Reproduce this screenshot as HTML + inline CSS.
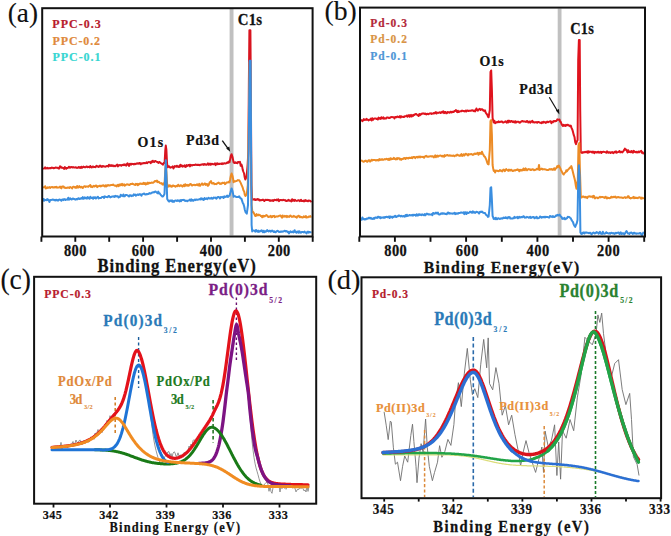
<!DOCTYPE html>
<html><head><meta charset="utf-8"><title>XPS</title>
<style>
html,body{margin:0;padding:0;background:#fff;width:671px;height:536px;overflow:hidden;}
svg{display:block;}
text{font-family:"Liberation Serif",serif;}
</style></head>
<body>
<svg width="671" height="536" viewBox="0 0 671 536">
<rect width="671" height="536" fill="#fff"/>
<rect x="229.6" y="9" width="3.9" height="226.5" fill="#c0c0c0"/>
<rect x="557.7" y="8.5" width="3.8" height="227" fill="#c0c0c0"/>
<polyline points="43,168.4 43.7,168.6 44.4,168.3 45.1,167.4 45.8,168.6 46.5,168.4 47.2,167.8 48,168.4 48.7,168.3 49.4,168.2 50.1,168 50.8,168.3 51.5,167.6 52.2,167.9 52.9,167.7 53.6,168.3 54.3,168 55,167.8 55.8,167.5 56.5,167.7 57.2,167.9 57.9,167.7 58.6,168.5 59.3,168.4 60,166.3 60.7,166.7 61.4,167.7 62.1,167.5 62.8,167.9 63.4,167.9 64.1,168.9 64.8,167.1 65.5,167.5 66.2,168.8 66.9,168 67.6,168 68.3,167.4 69,166.7 69.7,167.7 70.3,167.7 71,166.9 71.7,167.2 72.4,167.5 73.1,167 73.8,167.5 74.5,167.6 75.2,167.5 75.9,167.2 76.6,167.8 77.2,167.9 77.9,167.6 78.6,167 79.3,167.8 80,167.1 80.7,167.9 81.4,166.7 82.1,167.8 82.8,167.3 83.4,166.6 84.1,167 84.8,167.2 85.5,167.3 86.2,166.6 86.9,166.5 87.6,167.2 88.3,166.8 89,167.1 89.7,167.4 90.3,166 91,167 91.7,167.5 92.4,166.7 93.1,166.4 93.8,167.2 94.5,166.9 95.2,167.2 95.9,166.5 96.6,165.8 97.2,166.6 97.9,166.3 98.6,167 99.3,166.6 100,165.6 100.7,165.8 101.4,166.9 102.1,166.7 102.8,166 103.4,166.3 104.1,166.5 104.8,166.5 105.5,166.7 106.2,166.3 106.9,166 107.6,165.9 108.3,166.6 109,164.7 109.7,165.8 110.3,165.9 111,165.1 111.7,166 112.4,165.4 113.1,166.2 113.8,165.6 114.5,166 115.2,166.3 115.9,165.8 116.6,165 117.2,164.6 117.9,166.4 118.6,165.3 119.3,165 120,165.4 120.7,165.1 121.4,165.7 122.1,165.1 122.8,165.1 123.4,164.6 124.1,165.2 124.8,164.3 125.5,165.2 126.2,165.6 126.9,163.9 127.6,163.3 128.3,164.9 129,165.9 129.7,163.9 130.3,163.7 131,164.7 131.7,163.8 132.4,164 133.1,164 133.8,164.4 134.5,163.8 135.2,164.2 135.9,163.9 136.6,163.4 137.2,163.7 137.9,163.3 138.6,163.7 139.3,163 140,163 140.7,164.3 141.4,163.4 142.1,163.3 142.9,163.6 143.6,163 144.3,163 145,163.3 145.7,163.1 146.4,162.3 147.1,163.3 147.9,162.4 148.6,162.1 149.3,162.1 150,162.3 150.7,163.2 151.4,161.5 152.1,162.1 152.8,160.7 153.4,161.7 154.1,162 154.8,161.2 155.5,160.9 156.2,161.5 156.9,161.9 157.6,162 158.3,162.9 159,162.1 159.7,162.1 160.3,162.8 161,163.2 161.7,163.7 162.3,164.1 163,164.6 163.8,162.8 164.6,163 165.3,150 165.8,145.6 166.4,150 167,163 167.6,167.3 168.3,166.5 169.1,166.2 169.8,167.3 170.5,167.7 171.3,167.2 172,167.1 172.7,166.4 173.4,168.5 174.1,167.3 174.8,166.1 175.5,166.3 176.2,166.7 176.8,165.7 177.5,166.6 178.2,166.2 178.9,167.1 179.6,166.9 180.3,164.8 181,166.2 181.7,165.2 182.4,166.7 183.1,166.1 183.8,166.3 184.5,165.3 185.2,166.8 185.8,166.9 186.5,165.1 187.2,165.9 187.9,165.2 188.6,165.5 189.3,164.8 190,166.4 190.7,164.8 191.4,165.2 192.1,165.6 192.8,164.9 193.4,165.1 194.1,164.9 194.8,165.1 195.5,164.5 196.2,164.8 196.9,164.9 197.6,164.8 198.3,165 199,164.8 199.7,165.3 200.3,164.7 201,164.8 201.7,164.4 202.4,164.5 203.1,164 203.8,165 204.5,164 205.2,164.2 205.9,164.8 206.6,164.8 207.2,164.3 207.9,163.4 208.6,164.7 209.3,164.6 210,163.6 210.7,164.8 211.4,163.9 212.1,163.7 212.9,164.3 213.6,164.1 214.3,164.3 215,163.3 215.7,165.1 216.4,163.7 217.1,163.2 217.9,164.3 218.6,163.7 219.3,164.1 220,163.7 220.7,163.8 221.4,163.9 222.1,163.3 222.9,164.1 223.6,163.4 224.3,163.2 225,163.6 225.8,163.6 226.5,163 227.2,162.4 228,163 228.8,161.5 229.5,162.2 230.2,159.1 230.8,156 231.6,154.2 232.5,157 233.1,160 233.6,162.4 234.4,163 235.2,162.3 236,163 236.6,162.8 237.3,163.2 237.9,162 238.6,162 239.2,162.4 240,161.8 240.7,165.8 241.5,164.6 242.2,166.9 242.8,170.1 243.5,172 244.1,173.5 244.7,177.3 245.3,179.5 245.9,178.2 246.5,177 247.1,171 247.6,165 248.4,151 248.9,80 249.4,30.3 250.4,30.3 250.9,100 251.4,185 252.1,199.8 252.8,199.1 253.4,199.3 254.1,199.8 254.7,199.1 255.3,200 256,199.9 256.7,199.4 257.4,199.1 258.1,199.7 258.8,199.4 259.5,200.5 260.2,200 260.9,200.4 261.6,200 262.3,200.1 263,199.6 263.7,200.4 264.4,201 265.1,199.9 265.8,199.8 266.5,200 267.2,199.9 267.9,199.8 268.6,200.2 269.3,200 270,201 270.7,200.2 271.4,200.4 272.1,200.8 272.8,200.1 273.4,201 274.1,199.9 274.8,199.8 275.5,200.1 276.2,200.2 276.9,199.5 277.6,200.3 278.3,199.4 279,201.1 279.7,200.3 280.3,200 281,199.9 281.7,200.2 282.4,200.3 283.1,199.8 283.8,199.9 284.5,200.3 285.2,200.1 285.9,201 286.6,201.1 287.2,200.5 287.9,200.7 288.6,199.7 289.3,200.8 290,200.5 290.7,200.8 291.4,201.4 292.1,199.3 292.8,200.7 293.5,199.9 294.2,200.9 294.9,199.8 295.5,200.3 296.2,200.7 296.9,200.9 297.6,200.6 298.3,200.2 299,200.3 299.7,201.1 300.4,200.6 301.1,199.7 301.8,201.1 302.5,200.9 303.2,201.2 303.9,200.5 304.6,201.2 305.3,200.1 306,201 306.6,200.5 307.3,201.1 308,201.3 308.7,200.4 309.4,200.7 310.1,200.8 310.8,201.4 311.5,200.8" fill="none" stroke="#d8141f" stroke-width="2.0" stroke-linejoin="round"/>
<polyline points="43,187.7 43.7,187.3 44.4,187.3 45.1,186.2 45.8,188.5 46.5,188.1 47.2,187.3 48,187.9 48.7,187.6 49.4,187.1 50.1,188 50.8,187.2 51.5,187.2 52.2,186.9 52.9,187.6 53.6,187.3 54.3,187.6 55,187 55.8,187.4 56.5,186.8 57.2,187.7 57.9,187.4 58.6,187.4 59.3,187.4 60,186.6 60.7,187.7 61.4,188.4 62.1,186.4 62.9,186.4 63.6,186.5 64.3,187.8 65,187.5 65.7,188 66.4,187.9 67.1,187.6 67.9,187.7 68.6,187.4 69.3,188 70,187 70.7,187.3 71.4,187.6 72.1,188.4 72.9,187 73.6,186.7 74.3,186.9 75,187.7 75.7,187 76.4,187.8 77.1,186 77.9,187.6 78.6,187.5 79.3,186.1 80,186.9 80.7,187.4 81.4,186.8 82.1,187.3 82.8,188 83.4,186.8 84.1,186.5 84.8,186.2 85.5,186.9 86.2,186.4 86.9,186.4 87.6,186.4 88.3,186.8 89,185.9 89.7,185.6 90.3,185 91,187 91.7,186.4 92.4,187.1 93.1,186.3 93.8,185.8 94.5,186.5 95.2,186.2 95.9,185.5 96.6,185.7 97.2,187.1 97.9,186.3 98.6,186.3 99.3,185.9 100,185.6 100.7,186.5 101.4,185.9 102.1,185.5 102.8,185.8 103.4,185.3 104.1,185.9 104.8,186.4 105.5,185.3 106.2,186.5 106.9,185.3 107.6,185.7 108.3,185.1 109,185.4 109.7,185.5 110.3,185.2 111,185.1 111.7,185 112.4,184.9 113.1,184.5 113.8,185.2 114.5,185.5 115.2,185.7 115.9,185.6 116.6,186.5 117.2,185.3 117.9,184.9 118.6,186.1 119.3,184.5 120,185.5 120.7,184.4 121.4,185.1 122.1,183.8 122.8,185.4 123.4,184.7 124.1,184.3 124.8,185.7 125.5,185.1 126.2,184.7 126.9,184.2 127.6,184.6 128.3,184.5 129,185 129.7,185 130.3,184.1 131,184.1 131.7,184.1 132.4,183.6 133.1,184 133.8,184.3 134.5,184.7 135.2,185 135.9,183.8 136.6,184.5 137.2,183.9 137.9,185.2 138.6,184 139.3,184.3 140,183.5 140.7,183.5 141.4,184 142.1,183.6 142.9,184 143.6,182.9 144.3,184 145,183.1 145.7,184.5 146.4,183.3 147.1,184 147.9,182.6 148.6,183.6 149.3,182.8 150,182.9 150.7,183 151.4,182.6 152.1,182.7 152.8,182.8 153.4,182.5 154.1,181.9 154.8,181 155.5,181.1 156.2,181.5 156.9,180.5 157.6,182.2 158.3,181.8 159,181.9 159.7,182.9 160.3,183.2 161,183.4 161.7,183.1 162.3,184.3 163,184.7 163.8,183.3 164.6,183 165.3,170 165.8,164 166.4,172 167,183 167.6,186.9 168.3,186.6 169.1,185.2 169.8,186.3 170.5,185.5 171.3,186.8 172,186.6 172.7,185.5 173.4,185.6 174.1,186.1 174.8,185.9 175.5,186.8 176.2,186.3 176.8,185.7 177.5,186.1 178.2,184.7 178.9,185.9 179.6,186.2 180.3,185.5 181,185.2 181.7,185.9 182.4,186.6 183.1,185.6 183.8,184.8 184.5,186.2 185.2,184.3 185.8,185.6 186.5,184.9 187.2,185.7 187.9,184.7 188.6,185.8 189.3,185.2 190,184.1 190.7,183.9 191.4,184.8 192.1,185.6 192.8,184.9 193.6,184.9 194.3,184.7 195,185.2 195.7,185 196.4,184.9 197.1,184.2 197.8,185.3 198.5,185.4 199.2,183.9 200,185.8 200.7,184.9 201.4,184.2 202.1,183.4 202.8,184.8 203.5,184.7 204.2,184.1 204.9,183.4 205.7,184.9 206.4,184 207.1,184 207.8,185.8 208.5,185.4 209.1,183.8 209.8,182.1 210.4,181.9 211,181.1 211.7,183.2 212.3,183.6 213,183.2 213.7,183 214.4,184.2 215.1,183.9 215.8,183.9 216.5,184.2 217.2,183.2 217.9,183 218.7,182.6 219.4,183.4 220.1,183.9 220.8,183.4 221.5,183.8 222.2,182.7 222.9,183.1 223.6,182.9 224.3,182.6 225,184.2 225.8,183.5 226.5,182.5 227.2,182.4 228,182.6 228.8,181.7 229.5,182.4 230.2,179.2 230.8,176 231.6,173.5 232.5,176 233.1,179 233.6,182.2 234.4,181.2 235.2,181.5 236,181 236.6,181.1 237.3,180.5 237.9,180.1 238.6,180.3 239.2,180.2 240,181.6 240.7,182.9 241.5,184.8 242.2,186.4 242.8,187.9 243.5,190.4 244.2,191.6 244.8,194.8 245.5,196 246.2,195 246.8,194 247.8,185 248.8,120 249.6,62 250.4,62 251,150 251.6,205 252.4,212.3 253.2,212.1 254.1,213.6 254.6,214.6 255.2,215.9 255.9,216 256.6,214.1 257.3,215.2 258,215.4 258.7,214.6 259.4,215.1 260.1,215.2 260.8,216.1 261.5,216 262.2,217.3 263,215.7 263.7,216.6 264.4,216 265.1,216.2 265.8,215.4 266.5,215.1 267.2,215.7 267.9,216.6 268.6,217.1 269.3,216.6 270,216.6 270.7,215.8 271.4,217.2 272.1,217.1 272.8,216 273.5,216.3 274.2,215.8 274.9,217.2 275.6,216.6 276.3,216.3 277,216.6 277.7,216.6 278.4,216.2 279.1,215.7 279.8,215.7 280.6,215.4 281.3,216.7 282,217.6 282.7,215.5 283.4,216.5 284.1,216.7 284.8,215.9 285.5,216.6 286.2,215.9 286.9,217.1 287.6,216.1 288.3,216.5 289,216.9 289.7,216.3 290.4,215.5 291.1,216.2 291.8,216.9 292.5,216.5 293.2,216.7 293.9,215.9 294.6,216.6 295.3,216.9 296,216.6 296.7,217.6 297.4,216.5 298.1,216 298.8,215.7 299.5,217.2 300.2,216.6 300.9,217.2 301.7,216.9 302.4,217.5 303.1,217.3 303.8,216.4 304.5,216.8 305.2,217.2 305.9,216 306.6,217.5 307.3,217.3 308,217.2 308.7,216.6 309.4,216.8 310.1,216.1 310.8,216.7 311.5,216.7" fill="none" stroke="#ec8b25" stroke-width="2.0" stroke-linejoin="round"/>
<polyline points="43,201.5 43.7,199 44.4,200.6 45.1,200 45.8,200.1 46.5,200.2 47.2,199.1 48,200.1 48.7,199.7 49.4,202 50.1,200.3 50.8,199.9 51.5,199.9 52.2,199.7 52.9,199.5 53.6,199.8 54.3,200.3 55,199.8 55.8,200.5 56.5,199.8 57.2,199.9 57.9,200.7 58.6,200.1 59.3,199.5 60,199.7 60.7,200.1 61.4,200.8 62.1,199.5 62.8,199.5 63.4,200.1 64.1,199.1 64.8,199.3 65.5,200 66.2,199.7 66.9,199.4 67.6,199.7 68.3,197.7 69,199.8 69.7,198.7 70.3,198.3 71,199.3 71.7,199.5 72.4,198.8 73.1,198.4 73.8,199 74.5,198.9 75.2,199.7 75.9,199.3 76.6,198.9 77.2,199.4 77.9,198.6 78.6,198.2 79.3,199 80,198.9 80.7,198.4 81.4,198.1 82.1,198.6 82.8,197.1 83.4,198.8 84.1,198.6 84.8,197.4 85.5,198.3 86.2,197.7 86.9,198.6 87.6,197.1 88.3,197.6 89,198.5 89.7,198.7 90.3,196.8 91,197.7 91.7,198.1 92.4,197.6 93.1,198.8 93.8,197.2 94.5,198 95.2,197.2 95.9,198.5 96.6,197.7 97.2,197.4 97.9,196.7 98.6,198.5 99.3,198 100,197.9 100.7,198.1 101.4,197.6 102.1,197 102.8,196.9 103.4,196.8 104.1,197.9 104.8,196.3 105.5,196.8 106.2,196.9 106.9,197.1 107.6,197.2 108.3,196.2 109,195.9 109.7,196.8 110.3,197.4 111,197.1 111.7,196.7 112.4,196.4 113.1,196.7 113.8,196.3 114.5,196.9 115.2,195.9 115.9,196.4 116.6,196.2 117.2,196.5 117.9,196.3 118.6,197.5 119.3,196.9 120,196.8 120.7,194.8 121.4,195.7 122.1,195.5 122.8,196.1 123.4,194.5 124.1,196.4 124.8,196.2 125.5,194.9 126.2,195 126.9,195.1 127.6,195.5 128.3,195.8 129,196.5 129.7,195.2 130.3,195.7 131,195.3 131.7,196.1 132.4,195.5 133.1,195.8 133.8,194.4 134.5,194.9 135.2,194.5 135.9,195.7 136.6,195.2 137.2,194.6 137.9,194.5 138.6,195 139.3,194.3 140,194.1 140.7,194.8 141.4,195.8 142.1,194.3 142.9,194.1 143.6,193.7 144.3,193.5 145,194.5 145.7,194.6 146.4,194.1 147.1,194.2 147.9,194 148.6,194 149.3,193 150,193.5 150.7,193.6 151.4,192.8 152.1,192.7 152.8,192.2 153.4,192.2 154.1,192.5 154.8,191.6 155.5,191.4 156.2,192.2 156.9,192.5 157.6,193.3 158.3,191.6 159,193.5 159.7,193.3 160.3,194.2 161,195.2 161.7,195.9 162.3,196.5 163,196.5 163.8,195.2 164.5,194 165.2,175 165.8,160.3 166.4,175 167.2,199 167.8,199.9 168.4,200.9 169.1,201.6 169.8,200.6 170.6,200.6 171.3,201.1 172,200.3 172.7,201.8 173.4,201.1 174.1,201.8 174.8,200.6 175.5,200.4 176.2,200.6 176.8,201 177.5,200.2 178.2,200.7 178.9,200.5 179.6,201.4 180.3,200.1 181,201.1 181.7,200.1 182.4,200 183.1,200.1 183.8,199.8 184.5,200.5 185.2,201 185.8,200.5 186.5,200.8 187.2,201.3 187.9,200.6 188.6,200.5 189.3,200.3 190,199.5 190.7,200.8 191.4,199.3 192.1,200.6 192.8,200.1 193.4,200.7 194.1,200 194.8,199.5 195.5,200.1 196.2,199.5 196.9,199.7 197.6,199.7 198.3,199.6 199,199.5 199.7,199.1 200.3,199.4 201,198.2 201.7,199.3 202.4,198.6 203.1,199.8 203.8,199.9 204.5,198 205.2,199.1 205.9,198.9 206.6,198.3 207.2,199.1 207.9,198.5 208.6,197.8 209.3,198.5 210,198.5 210.7,198.6 211.4,197.7 212.1,198.7 212.9,198.6 213.6,197.5 214.3,197.7 215,197.9 215.7,197.5 216.4,198.7 217.1,197.8 217.9,197 218.6,197 219.3,197.3 220,198.5 220.7,197.1 221.4,197.1 222.1,197.3 222.9,196.9 223.6,198 224.3,196.4 225,197 225.8,196.6 226.5,196.7 227.2,195.6 228,197 228.8,195.9 229.5,195.8 230.2,193.4 230.8,191 231.6,188.4 232.5,191 233.1,193.9 233.6,196.8 234.4,196.2 235.2,196.3 236,196.9 236.6,197.1 237.3,196.9 237.9,197.1 238.6,196.8 239.2,196.3 240,197.7 240.7,198.4 241.5,198.9 242.2,201.1 242.8,203 243.5,204.1 244.2,206.5 244.8,209.7 245.5,212 246.2,212.8 246.8,213.6 247.4,209.3 248,205 249,120 249.7,60.7 250.6,60.7 251.1,150 251.6,225 252.2,231.4 253,230.4 253.7,230.6 254.5,230.7 255.2,231.6 256,230 256.7,231.2 257.4,231.7 258.1,230.6 258.8,231.9 259.5,231.4 260.2,230.8 260.9,231.3 261.6,230.3 262.3,230.9 263,232.2 263.7,230.7 264.4,232.3 265.1,231.2 265.8,231.8 266.5,231.3 267.2,230.1 267.9,231 268.6,231.5 269.3,230.7 270,230.7 270.7,231.6 271.4,231.1 272.1,230.5 272.8,231.1 273.5,231.9 274.2,231.2 274.9,232 275.6,232.3 276.3,231.5 277,230.9 277.7,230.8 278.4,231.5 279.1,232.1 279.8,231.7 280.6,231.9 281.3,231.4 282,231.8 282.7,231.4 283.4,231.5 284.1,231 284.8,230.8 285.5,231.4 286.2,231.1 286.9,231.2 287.6,232.1 288.3,231.7 289,233.4 289.7,232.3 290.4,231.4 291.1,232.2 291.8,232 292.5,231.5 293.2,232.5 293.9,231.4 294.6,230.2 295.3,232.3 296,231.6 296.7,232.7 297.4,231.6 298.1,231.3 298.8,232.8 299.5,231.4 300.2,232.1 300.9,232.8 301.7,232.1 302.4,232 303.1,232.1 303.8,232.5 304.5,231.6 305.2,232.4 305.9,232.4 306.6,233.4 307.3,231.9 308,231.6 308.7,232.6 309.4,231.9 310.1,232.3 310.8,232.3 311.5,232.2" fill="none" stroke="#3a8ee0" stroke-width="2.0" stroke-linejoin="round"/>
<polyline points="361,119.9 361.7,120.1 362.4,121.1 363.1,120.5 363.8,119.1 364.5,120 365.2,119.6 365.9,119.9 366.6,118.9 367.3,119.8 368,119.8 368.7,120.4 369.4,119.7 370.1,119.7 370.9,118.5 371.6,120.5 372.3,118.2 373,119.8 373.7,118.9 374.4,118.5 375.1,118.6 375.8,118.5 376.5,119 377.2,118.7 377.9,119.5 378.6,117.6 379.3,118.6 380,118 380.7,118.9 381.4,117.2 382.1,118.1 382.8,118.4 383.4,117.4 384.1,118.7 384.8,118.2 385.5,118.6 386.2,118.5 386.9,117.4 387.6,117.4 388.3,117.7 389,118.1 389.7,118.1 390.3,117.2 391,117.2 391.7,117.1 392.4,117.1 393.1,117.3 393.8,117.3 394.5,118.4 395.2,116.9 395.9,117 396.6,117.3 397.2,116.5 397.9,116.8 398.6,116.9 399.3,117.3 400,116.1 400.7,117.5 401.4,116.4 402.1,116.7 402.8,116.9 403.4,116.8 404.1,116.9 404.8,116.3 405.5,116.2 406.2,116.3 406.9,115.5 407.6,116.6 408.3,115.4 409,115.1 409.7,116.8 410.3,115.5 411,114.9 411.7,116.5 412.4,115.2 413.1,115.9 413.8,114.8 414.5,115 415.2,114.1 415.9,113.9 416.6,114.4 417.2,114.8 417.9,115.2 418.6,116 419.3,114 420,115.1 420.7,114.1 421.4,114.3 422.1,113.5 422.8,113.4 423.4,113.7 424.1,113.4 424.8,114 425.5,113.5 426.2,114.5 426.9,113.9 427.6,113.8 428.3,114.3 429,113.8 429.7,113.5 430.3,113.4 431,113.3 431.7,113.9 432.4,113.6 433.1,113.3 433.8,113.5 434.5,112.7 435.2,113.2 435.9,112.1 436.6,113.5 437.2,112.7 437.9,112.7 438.6,112.9 439.3,112.5 440,112.3 440.7,113 441.4,112.4 442.1,111.8 442.8,112.5 443.4,111.3 444.1,113.1 444.8,112 445.5,112.1 446.2,113.3 446.9,113.2 447.6,112 448.3,112.2 449,112.5 449.7,112.7 450.3,111.7 451,111.8 451.7,112.4 452.4,111.8 453.1,112 453.8,111.9 454.5,110.9 455.2,111 455.9,110 456.6,111.3 457.2,112.1 457.9,110.7 458.6,112 459.3,111.8 460,111.2 460.7,111.2 461.4,111.2 462.1,110.6 462.9,110.9 463.6,111 464.3,111.3 465,111.4 465.7,110.5 466.4,111.4 467.1,110.4 467.9,110.7 468.6,111 469.3,110.8 470,110.7 470.7,110.8 471.4,110.4 472.1,110.3 472.9,110.5 473.6,111.1 474.3,110.5 475,111.5 475.7,110.4 476.4,108.5 477.1,109.7 477.8,110.7 478.4,109.7 479.1,109.2 479.8,108.8 480.5,109.9 481.2,109.5 481.9,109.2 482.7,109.6 483.4,110.7 484.2,110.9 485,110.3 485.7,112.7 486.4,113.6 487.2,114.7 487.9,116.5 488.6,117.3 489.2,113.7 489.8,110 490.5,72 491.2,70.5 491.9,90 492.6,118 493.1,120.2 493.7,122.4 494.4,120.7 495.1,123.2 495.8,122.8 496.5,122.2 497.2,122 497.9,122.3 498.6,121.4 499.3,122.2 500,121.9 500.7,121.8 501.4,121.5 502.1,121.6 502.8,122.5 503.4,122.6 504.1,122.2 504.8,121.9 505.5,121.4 506.2,122.2 506.9,122.7 507.6,120.9 508.3,122.4 509,120.6 509.7,121.6 510.3,122 511,121 511.7,120.9 512.4,121.8 513.1,122.2 513.8,121.4 514.5,122.4 515.2,121.2 515.9,122.6 516.6,121.7 517.2,121.7 517.9,121.9 518.6,121.7 519.3,122.5 520,122.7 520.7,121.8 521.4,121.5 522.1,120.9 522.8,121.2 523.4,121.6 524.1,121.6 524.8,121.6 525.5,121.7 526.2,122 526.9,121 527.6,121.2 528.3,122.4 529,122.3 529.7,121.5 530.3,122.6 531,121.5 531.7,121.8 532.4,120.9 533.1,122.4 533.8,122 534.5,122.6 535.2,122.4 535.9,122.1 536.6,122.2 537.2,122.8 537.9,122 538.6,122.1 539.3,122.2 540,122.7 540.7,122.7 541.4,123.2 542.1,122.1 542.9,122.8 543.6,121.7 544.3,122.3 545,122.1 545.7,122.9 546.4,122.3 547.1,121.6 547.9,122.2 548.6,122 549.3,121.6 550,121.6 550.7,121.2 551.4,123.2 552.1,121.7 552.9,122.2 553.6,121 554.3,121 555,121.4 555.8,120.9 556.5,120.9 557.3,119.4 558,119.7 558.8,119.7 559.5,119.6 560.2,121.8 560.8,122 561.5,124 562.2,125.2 563,126.1 563.7,124.8 564.5,125.4 565.2,126 566,124.9 566.7,125.4 567.4,124.8 568.1,124.8 568.7,125.5 569.4,125.4 570.1,126.3 570.8,125.6 571.5,127.9 572.3,129.5 573,131.9 573.8,135.2 574.5,137 575.2,142.2 576,144.1 576.8,141.6 577.6,140 578.2,60 578.9,40 579.7,40 580.2,110 580.8,152 581.5,152.7 582.2,152.9 582.9,152 583.6,152.5 584.4,152.2 585.1,151.7 585.8,152.3 586.5,152.2 587.2,151.4 587.9,152.8 588.6,151.4 589.3,152.3 590,151.6 590.8,151.8 591.5,151.8 592.2,152.6 592.9,151.5 593.6,152.1 594.3,153.1 595,151.8 595.7,152.2 596.4,152.6 597.2,151.9 597.9,152.5 598.6,151.8 599.3,152.6 600,152.2 600.7,151.7 601.4,153 602.1,152.1 602.8,152 603.5,151.7 604.2,151.9 604.9,152.1 605.6,152.3 606.3,152.8 607,151.4 607.7,151.9 608.4,152.8 609.1,152.2 609.8,152.3 610.5,153 611.2,152.3 611.8,152.4 612.5,152.1 613.2,153.1 613.9,152.7 614.6,151.7 615.3,152.4 616,151.4 616.7,152.7 617.4,152.4 618.1,152 618.8,151.8 619.5,151 620.2,152.4 620.9,152 621.6,151.8 622.3,152.4 623,151.6 623.6,150.8 624.2,149.9 624.9,148.6 625.5,149.8 626.2,149.6 626.8,150.6 627.5,152.5 628.2,150.3 628.9,152 629.6,152.1 630.2,151.5 630.9,152.3 631.6,151 632.3,152.1 633,152.6 633.7,150.9 634.4,151.3 635.1,152.1 635.8,152.2 636.4,151.8 637.1,152.4 637.8,152.3 638.5,151.5 639.2,152.2 639.9,151.5 640.6,151.1 641.2,150.9 641.9,152.8 642.6,152.2 643.3,153.4 644,152.4" fill="none" stroke="#df131d" stroke-width="2.0" stroke-linejoin="round"/>
<polyline points="361,161 361.7,160.6 362.4,161.2 363.1,161.5 363.8,161.8 364.5,161.2 365.2,160.8 365.9,160.6 366.6,161.4 367.3,161.8 368,161 368.7,160.2 369.4,160.3 370.1,161.6 370.9,160.8 371.6,159.7 372.3,160.5 373,159.9 373.7,160.1 374.4,160.1 375.1,160 375.8,160.6 376.5,160.2 377.2,159.9 377.9,160.4 378.6,160.6 379.3,159.1 380,159.9 380.7,159.4 381.4,159.8 382.1,159.1 382.8,159.8 383.4,159.7 384.1,159.5 384.8,159.1 385.5,159.4 386.2,159 386.9,158.8 387.6,159.6 388.3,158.8 389,160 389.7,159.7 390.3,158.2 391,159.4 391.7,158.6 392.4,159.1 393.1,159.1 393.8,157.9 394.5,158.9 395.2,158.8 395.9,159.4 396.6,158.2 397.2,159.2 397.9,158.1 398.6,158.5 399.3,158.2 400,159.4 400.7,158.9 401.4,159.8 402.1,158.8 402.8,158.9 403.4,158.8 404.1,158 404.8,158.2 405.5,159 406.2,157.9 406.9,158.2 407.6,158.1 408.3,158.4 409,157.8 409.7,157.8 410.3,158 411,157.9 411.7,157.3 412.4,158.2 413.1,157 413.8,157 414.5,156.9 415.2,158.1 415.9,157.3 416.6,156.9 417.2,156.8 417.9,157.6 418.6,156.7 419.3,156.5 420,157.5 420.7,156.5 421.4,156.9 422.1,157.1 422.8,156.8 423.4,157 424.1,157.7 424.8,156.6 425.5,156.2 426.2,155.8 426.9,156.7 427.6,156.6 428.3,156.8 429,156.4 429.7,156.4 430.3,156.2 431,156.3 431.7,156.6 432.4,156.2 433.1,156.5 433.8,157.4 434.5,156.6 435.2,155.4 435.9,157.2 436.6,156.4 437.2,155.6 437.9,156.6 438.6,156.1 439.3,155.7 440,155.7 440.7,155.4 441.4,156 442.1,156.5 442.8,155.7 443.4,156.1 444.1,156.8 444.8,155.1 445.5,155.9 446.2,155.5 446.9,155.1 447.6,155.1 448.3,155.6 449,155.8 449.7,155.2 450.3,155.5 451,155.8 451.7,155.6 452.4,155.9 453.1,155.6 453.8,155.6 454.5,156.3 455.2,155.6 455.9,155.3 456.6,155.6 457.2,154.6 457.9,154.9 458.6,155.5 459.3,155.4 460,155.9 460.7,155 461.4,154.1 462.1,156 462.9,155.4 463.6,154.2 464.3,155.5 465,154.8 465.7,153.7 466.4,154.4 467.1,154.3 467.9,155.5 468.6,154.1 469.3,154.4 470,154.3 470.7,154.2 471.4,153.9 472.1,154.5 472.9,154.9 473.6,154.6 474.3,153.7 475,153.6 475.7,154.1 476.4,153.6 477.1,153.5 477.8,152.8 478.4,154.7 479.1,154 479.8,152.8 480.5,153.7 481.2,153.9 481.9,151.7 482.7,153.7 483.4,154.8 484.2,156.4 485,156.9 485.7,158.4 486.4,159.9 487.2,162.5 487.9,164.1 488.6,164.4 489.2,157.2 489.8,150 490.5,121 491.2,120 491.9,135 492.6,165 493.1,168.1 493.7,170.9 494.4,170.6 495.1,172.5 495.8,170.4 496.5,170.6 497.2,170.8 497.9,171 498.6,171.2 499.3,170.8 500,170 500.7,170.8 501.4,170.6 502.1,171.5 502.8,170.4 503.4,169.6 504.1,169.8 504.8,171.1 505.5,170 506.2,169.1 506.9,169.9 507.6,170.2 508.3,170.9 509,169.6 509.7,170.5 510.3,170.6 511,169.7 511.7,170 512.4,171 513.1,171 513.8,170.5 514.5,170.2 515.2,170.6 515.9,169.9 516.6,169.9 517.2,169.4 517.9,169.9 518.6,169.8 519.3,171.3 520,169.7 520.7,170.5 521.4,170.5 522.1,169.7 522.8,170.4 523.5,168.5 524.2,169.8 524.9,170.2 525.6,168.4 526.3,169.1 527,170.3 527.7,169.5 528.4,169.1 529.1,169.4 529.9,169.3 530.6,170 531.3,169.9 532,169.4 532.7,169.2 533.4,169.6 534.1,170.3 534.8,169.7 535.5,169.9 536.2,169.5 536.9,168.8 537.6,169.1 538.3,169.5 539,165 539.7,169.9 540.4,169.5 541.1,169 541.8,168.6 542.5,169.5 543.2,169.2 543.9,169.2 544.6,169.2 545.3,169.5 546,169.5 546.7,169.9 547.4,169.9 548,170.1 548.7,169.8 549.4,169.1 550.1,169.3 550.8,169.6 551.5,169.1 552.2,169.6 552.9,169.9 553.6,168.8 554.3,168.2 555,169.9 555.8,168.4 556.5,168 557.3,166.1 558,167 558.8,165.6 559.5,166.7 560.2,168.1 560.9,169.9 561.6,171.2 562.3,172.7 563,173.8 563.7,174.5 564.3,173.2 565,172.7 565.7,172.2 566.3,170.3 567,171.3 567.7,170.1 568.4,169.3 569.1,168.8 569.9,167.5 570.6,167.7 571.3,166.1 572,168.4 572.6,170.8 573.3,173.7 574,176.4 574.6,178.8 575.2,181.5 575.9,186.1 576.5,188.7 577.1,184.3 577.8,180 578.5,145 579.3,143 579.9,170 580.8,196.2 581.5,197.5 582.2,196.8 582.9,196.5 583.6,196.5 584.4,197.2 585.1,197.4 585.8,196.8 586.5,197.5 587.2,198.1 587.9,196.9 588.6,196.4 589.3,196.5 590,196.3 590.8,196.8 591.5,196.7 592.2,196.4 592.9,197.5 593.6,195.8 594.3,196.5 595,198.4 595.7,197.8 596.4,197.6 597.2,197.6 597.9,198.3 598.6,197.7 599.3,197.4 600,196.7 600.7,197.4 601.4,197 602.1,197 602.8,197 603.5,197.4 604.2,197.3 604.9,197.9 605.6,196.7 606.3,197.4 607,198.5 607.7,197.5 608.4,198.1 609.1,198.1 609.8,198.2 610.5,197.9 611.2,196.7 611.9,197.4 612.6,197.3 613.3,196.7 614,197.3 614.7,196.8 615.4,196.6 616.1,197.7 616.8,197.5 617.5,197.2 618.2,197 618.9,197.3 619.6,197.4 620.3,197.4 621,197.6 621.7,197.4 622.3,197.8 623,197.9 623.7,197.8 624.4,197.3 625.1,197.3 625.8,197.9 626.5,197.5 627.2,197.6 627.9,196.3 628.6,196.2 629.3,197.9 630,197.9 630.7,198.4 631.4,198.1 632.1,197.8 632.8,197.7 633.5,196.9 634.2,198.2 634.9,197.4 635.6,198 636.3,197.8 637,197.9 637.7,198.2 638.4,197.5 639.1,197.5 639.8,197.3 640.5,197.6 641.2,198.7 641.9,197.6 642.6,198.4 643.3,198.2 644,197.8" fill="none" stroke="#ec8b25" stroke-width="2.0" stroke-linejoin="round"/>
<polyline points="361,219.5 361.7,219.8 362.4,217.4 363.1,218.7 363.8,219.3 364.5,219.4 365.2,218.9 365.9,219.4 366.6,218.6 367.3,218.7 368,218.5 368.7,217.7 369.4,217.8 370.1,218.4 370.9,217.9 371.6,218.8 372.3,218.8 373,219 373.7,218 374.4,218.7 375.1,217.4 375.8,217.4 376.5,217.8 377.2,217.9 377.9,216.8 378.6,216.7 379.3,217.7 380,217 380.7,218.1 381.4,217.6 382.1,217.5 382.8,217.4 383.4,217.8 384.1,217.1 384.8,217.8 385.5,216.9 386.2,217 386.9,216.7 387.6,217.3 388.3,217 389,216.4 389.7,218 390.3,216.6 391,216.7 391.7,217 392.4,217.7 393.1,216.6 393.8,217 394.5,216.6 395.2,215.7 395.9,216.9 396.6,217 397.2,216.2 397.9,216.3 398.6,215.5 399.3,215.4 400,216 400.7,216.5 401.4,215.8 402.1,216.2 402.8,216.5 403.4,216 404.1,216.2 404.8,216.7 405.5,215.1 406.2,216.2 406.9,214.7 407.6,215.9 408.3,215.7 409,215.3 409.7,214.9 410.3,215.4 411,215.2 411.7,215.4 412.4,214.8 413.1,215.6 413.8,214.7 414.5,215 415.2,214.9 415.9,215.8 416.6,214.2 417.2,214.8 417.9,215.6 418.6,214.5 419.3,214.2 420,215 420.7,214.6 421.4,215.2 422.1,214.2 422.8,214.8 423.4,215 424.1,215.2 424.8,214 425.5,215.3 426.2,214 426.9,213.6 427.6,213.9 428.3,214.5 429,214.2 429.7,214.6 430.3,214.6 431,214.4 431.7,214.1 432.4,215.2 433.1,212.9 433.8,213.2 434.5,213.8 435.2,213.4 435.9,212.6 436.6,213.5 437.2,213.5 437.9,212.6 438.6,214.3 439.3,214.5 440,214.5 440.7,213.5 441.4,213.8 442.1,213.1 442.8,213.8 443.4,213.3 444.1,213.8 444.8,213.4 445.5,214.1 446.2,214 446.9,214.2 447.6,212.6 448.3,212.4 449,213.6 449.7,213 450.3,213.6 451,213.5 451.7,213.4 452.4,213.7 453.1,213.5 453.8,213.4 454.5,212.7 455.2,214.1 455.9,213.2 456.6,213.7 457.2,213.2 457.9,213.7 458.6,213 459.3,213.1 460,213 460.7,212.5 461.4,212.5 462.1,212.7 462.9,212.7 463.6,212.2 464.3,214.1 465,212.2 465.7,212.5 466.4,214 467.1,212.3 467.9,213.1 468.6,213 469.3,212.5 470,211.8 470.7,211.7 471.4,212.5 472.1,212.7 472.9,211.3 473.6,212.5 474.3,212.1 475,212.9 475.7,212.4 476.4,211.8 477.1,211.9 477.8,212.1 478.4,212.7 479.1,213.5 479.8,212 480.5,211.8 481.2,212 481.9,211.5 482.7,212.4 483.4,212.8 484.2,213 485,213.1 485.7,214.3 486.4,215.3 487.2,215.5 487.9,216.9 488.6,216.6 489.2,210.8 489.8,205 490.5,188 491.2,187.3 491.9,200 492.6,216 493.1,217.2 493.7,218.9 494.4,218.3 495.1,219.3 495.8,217.7 496.5,219 497.2,219.3 497.9,218.2 498.6,218.2 499.3,218.8 500,219 500.7,218.5 501.4,218.3 502.1,218.7 502.8,218.3 503.4,217.5 504.1,218 504.8,218.1 505.5,217.2 506.2,218.2 506.9,217.6 507.6,218.4 508.3,217.1 509,217.4 509.7,217.1 510.3,218.6 511,218.5 511.7,218.6 512.4,218.6 513.1,218.2 513.8,218.2 514.5,216.8 515.2,217.8 515.9,217.4 516.6,217.4 517.2,216.9 517.9,218.3 518.6,217.6 519.3,216.7 520,217.7 520.7,217.4 521.4,216.9 522.1,217.3 522.8,217 523.4,216.2 524.1,216.6 524.8,217.7 525.5,217.6 526.2,217.6 526.9,216.8 527.6,217.1 528.3,217.4 529,217.8 529.7,216.9 530.3,216.8 531,218 531.7,217.4 532.4,217.2 533.1,217 533.8,217 534.5,218.3 535.2,217.9 535.9,217.2 536.6,216.7 537.2,218.3 537.9,218.3 538.6,218.1 539.3,217.9 540,216.4 540.7,216.6 541.4,217.6 542.1,217.1 542.9,217.4 543.6,216.9 544.3,216.8 545,217.4 545.7,216.8 546.4,217 547.1,217.1 547.9,217.1 548.6,217.5 549.3,217.6 550,216 550.7,216.6 551.4,216.4 552.1,217.1 552.9,216 553.6,217 554.3,216.9 555,216.8 555.8,215.6 556.5,215.7 557.3,214.9 558,215.4 558.8,215.3 559.5,214.6 560.2,215.6 560.9,216.7 561.6,217.1 562.3,218.9 563,218.6 563.7,218.8 564.3,217.9 565,219.3 565.7,218.5 566.3,218.7 567,218.2 567.8,216.8 568.5,216.9 569.2,216.9 570,217.7 570.8,218.3 571.5,219.9 572.2,221 573,222.1 573.7,224.4 574.5,226 575.2,226.9 576,224.8 576.7,223.5 577.5,220 578.3,175 578.9,165.2 579.6,175 580.4,232.4 581.1,233.8 581.8,233.9 582.5,232.7 583.2,233.2 583.9,232.3 584.6,233.5 585.3,232.6 586,232.3 586.7,232.8 587.4,232.8 588.1,232.8 588.8,233.2 589.5,233 590.2,232.7 590.9,233.6 591.6,234.4 592.3,233.2 593,232.7 593.7,232.6 594.4,233.5 595.1,233 595.8,233.2 596.5,232.1 597.2,232.5 597.9,232.5 598.6,233.7 599.3,233 600,231.8 600.7,233.5 601.4,233.8 602.1,233.9 602.8,231.7 603.5,233.3 604.2,233.7 604.9,233.6 605.6,233.1 606.2,232.2 606.9,233 607.6,233.1 608.3,233.5 609,233.6 609.7,233.1 610.4,233.7 611.1,232.7 611.8,232.9 612.5,233.2 613.2,233.6 613.9,233.1 614.6,233.9 615.3,233.5 616,232.7 616.7,233.3 617.4,232.8 618.1,232.7 618.8,232.5 619.4,234 620.1,233.8 620.8,232.4 621.5,233.9 622.2,233.8 622.9,233.1 623.6,233.6 624.3,234.5 625,233.3 625.8,232.2 626.5,231 627.2,232.2 628,233.6 628.7,233.6 629.4,234 630.1,232.8 630.8,232.7 631.5,232.6 632.2,233.4 632.9,233.9 633.6,233 634.3,232.7 635,233.6 635.7,233.3 636.3,233.8 637,233.4 637.7,233.4 638.4,233.4 639.1,233.5 639.8,233 640.5,232.9 641.2,234.4 641.9,235.2 642.6,234.1 643.3,232.6 644,233.5" fill="none" stroke="#3a8ee0" stroke-width="2.0" stroke-linejoin="round"/>
<rect x="42.2" y="8.2" width="270.4" height="228.3" fill="none" stroke="#111" stroke-width="2"/>
<rect x="360" y="7.6" width="285.0" height="228.9" fill="none" stroke="#111" stroke-width="2"/>
<line x1="41.4" y1="236.5" x2="41.4" y2="241.8" stroke="#111" stroke-width="1.9"/>
<line x1="75.3" y1="236.5" x2="75.3" y2="241.8" stroke="#111" stroke-width="1.9"/>
<line x1="109.2" y1="236.5" x2="109.2" y2="241.8" stroke="#111" stroke-width="1.9"/>
<line x1="143.1" y1="236.5" x2="143.1" y2="241.8" stroke="#111" stroke-width="1.9"/>
<line x1="177.1" y1="236.5" x2="177.1" y2="241.8" stroke="#111" stroke-width="1.9"/>
<line x1="211.0" y1="236.5" x2="211.0" y2="241.8" stroke="#111" stroke-width="1.9"/>
<line x1="244.9" y1="236.5" x2="244.9" y2="241.8" stroke="#111" stroke-width="1.9"/>
<line x1="278.8" y1="236.5" x2="278.8" y2="241.8" stroke="#111" stroke-width="1.9"/>
<line x1="312.7" y1="236.5" x2="312.7" y2="241.8" stroke="#111" stroke-width="1.9"/>
<line x1="359.3" y1="236.5" x2="359.3" y2="241.8" stroke="#111" stroke-width="1.9"/>
<line x1="394.9" y1="236.5" x2="394.9" y2="241.8" stroke="#111" stroke-width="1.9"/>
<line x1="430.5" y1="236.5" x2="430.5" y2="241.8" stroke="#111" stroke-width="1.9"/>
<line x1="466.1" y1="236.5" x2="466.1" y2="241.8" stroke="#111" stroke-width="1.9"/>
<line x1="501.8" y1="236.5" x2="501.8" y2="241.8" stroke="#111" stroke-width="1.9"/>
<line x1="537.4" y1="236.5" x2="537.4" y2="241.8" stroke="#111" stroke-width="1.9"/>
<line x1="573.0" y1="236.5" x2="573.0" y2="241.8" stroke="#111" stroke-width="1.9"/>
<line x1="608.6" y1="236.5" x2="608.6" y2="241.8" stroke="#111" stroke-width="1.9"/>
<line x1="644.2" y1="236.5" x2="644.2" y2="241.8" stroke="#111" stroke-width="1.9"/>
<text transform="translate(75.2,255.9) scale(0.9,1)" x="0" y="0" font-size="16" font-weight="bold" fill="#111" stroke="#111" stroke-width="0.26" text-anchor="middle" textLength="25.11" lengthAdjust="spacing">800</text>
<text transform="translate(143.1,255.9) scale(0.9,1)" x="0" y="0" font-size="16" font-weight="bold" fill="#111" stroke="#111" stroke-width="0.26" text-anchor="middle" textLength="25.11" lengthAdjust="spacing">600</text>
<text transform="translate(211,255.9) scale(0.9,1)" x="0" y="0" font-size="16" font-weight="bold" fill="#111" stroke="#111" stroke-width="0.26" text-anchor="middle" textLength="25.11" lengthAdjust="spacing">400</text>
<text transform="translate(279,255.9) scale(0.9,1)" x="0" y="0" font-size="16" font-weight="bold" fill="#111" stroke="#111" stroke-width="0.26" text-anchor="middle" textLength="25.11" lengthAdjust="spacing">200</text>
<text transform="translate(395.5,255.6) scale(0.9,1)" x="0" y="0" font-size="16" font-weight="bold" fill="#111" stroke="#111" stroke-width="0.26" text-anchor="middle" textLength="25.11" lengthAdjust="spacing">800</text>
<text transform="translate(467.1,255.6) scale(0.9,1)" x="0" y="0" font-size="16" font-weight="bold" fill="#111" stroke="#111" stroke-width="0.26" text-anchor="middle" textLength="25.11" lengthAdjust="spacing">600</text>
<text transform="translate(537.8,255.6) scale(0.9,1)" x="0" y="0" font-size="16" font-weight="bold" fill="#111" stroke="#111" stroke-width="0.26" text-anchor="middle" textLength="25.11" lengthAdjust="spacing">400</text>
<text transform="translate(608.4,255.6) scale(0.9,1)" x="0" y="0" font-size="16" font-weight="bold" fill="#111" stroke="#111" stroke-width="0.26" text-anchor="middle" textLength="25.11" lengthAdjust="spacing">200</text>
<text transform="translate(97.5,272.4) scale(0.9,1)" x="0" y="0" font-size="18.5" font-weight="bold" fill="#111" stroke="#111" stroke-width="0.3" textLength="175.89" lengthAdjust="spacing">Binding Energy(eV)</text>
<text transform="translate(423.8,273.4) scale(0.9,1)" x="0" y="0" font-size="17.5" font-weight="bold" fill="#111" stroke="#111" stroke-width="0.28" textLength="172.78" lengthAdjust="spacing">Binding Energy(eV)</text>
<text x="7.8" y="22.4" font-size="27.5" font-weight="normal" fill="#111" stroke="#111" stroke-width="0.12" textLength="30.2" lengthAdjust="spacingAndGlyphs">(a)</text>
<text transform="translate(52.3,27.7) scale(0.9,1)" x="0" y="0" font-size="13.3" font-weight="bold" fill="#b81c2e" stroke="#b81c2e" stroke-width="0.21" textLength="53.89" lengthAdjust="spacing">PPC-0.3</text>
<text transform="translate(52.5,45.4) scale(0.9,1)" x="0" y="0" font-size="13.3" font-weight="bold" fill="#df8a3c" stroke="#df8a3c" stroke-width="0.21" textLength="52.89" lengthAdjust="spacing">PPC-0.2</text>
<text transform="translate(52.5,61.1) scale(0.9,1)" x="0" y="0" font-size="13.3" font-weight="bold" fill="#38d6d2" stroke="#38d6d2" stroke-width="0.21" textLength="53.33" lengthAdjust="spacing">PPC-0.1</text>
<text transform="translate(237.8,24.9) scale(0.9,1)" x="0" y="0" font-size="16.5" font-weight="bold" fill="#111" stroke="#111" stroke-width="0.26" textLength="27.00" lengthAdjust="spacing">C1s</text>
<text transform="translate(137.4,147.3) scale(0.9,1)" x="0" y="0" font-size="15.5" font-weight="bold" fill="#111" stroke="#111" stroke-width="0.25" textLength="28.56" lengthAdjust="spacing">O1s</text>
<text transform="translate(186,144.6) scale(0.9,1)" x="0" y="0" font-size="15.5" font-weight="bold" fill="#111" stroke="#111" stroke-width="0.25" textLength="36.67" lengthAdjust="spacing">Pd3d</text>
<line x1="222.3" y1="140.6" x2="228.6" y2="149.4" stroke="#111" stroke-width="1.3"/>
<path d="M230.2,151.7 L226.2,148.6 L229.3,146.6 Z" fill="#111"/>
<text x="324.5" y="19.9" font-size="27.5" font-weight="normal" fill="#111" stroke="#111" stroke-width="0.12" textLength="32.3" lengthAdjust="spacingAndGlyphs">(b)</text>
<text transform="translate(370.2,26.6) scale(0.9,1)" x="0" y="0" font-size="12.8" font-weight="bold" fill="#b3283a" stroke="#b3283a" stroke-width="0.2" textLength="40.89" lengthAdjust="spacing">Pd-0.3</text>
<text transform="translate(370.2,43.3) scale(0.9,1)" x="0" y="0" font-size="12.8" font-weight="bold" fill="#d99446" stroke="#d99446" stroke-width="0.2" textLength="40.89" lengthAdjust="spacing">Pd-0.2</text>
<text transform="translate(370.2,60.3) scale(0.9,1)" x="0" y="0" font-size="12.8" font-weight="bold" fill="#5096d6" stroke="#5096d6" stroke-width="0.2" textLength="40.89" lengthAdjust="spacing">Pd-0.1</text>
<text transform="translate(570.2,33.6) scale(0.9,1)" x="0" y="0" font-size="16" font-weight="bold" fill="#111" stroke="#111" stroke-width="0.26" textLength="26.22" lengthAdjust="spacing">C1s</text>
<text transform="translate(479.6,65.8) scale(0.9,1)" x="0" y="0" font-size="15.5" font-weight="bold" fill="#111" stroke="#111" stroke-width="0.25" textLength="26.67" lengthAdjust="spacing">O1s</text>
<text transform="translate(519.3,94) scale(0.9,1)" x="0" y="0" font-size="15.5" font-weight="bold" fill="#111" stroke="#111" stroke-width="0.25" textLength="36.67" lengthAdjust="spacing">Pd3d</text>
<line x1="549.3" y1="97.3" x2="557.6" y2="111.2" stroke="#111" stroke-width="1.2"/>
<path d="M559.4,114.4 L555.9,110.5 L559.0,109.0 Z" fill="#111"/>
<polyline points="52,447.4 53,450.4 54,450 55,445.9 56,446.4 57,445.8 58,448.2 59,446.7 60,448.4 61,442.4 62,450.1 63,446.2 64,447.9 65,445.9 66,445.2 67,447 68,447.7 69,445.2 70,445.1 71,446.9 72,443.2 73,441.5 74,445.7 75,443.1 76,440 77,442.3 78,442.8 79,440.9 80,439.9 81,443.2 82,444.8 83,441.9 84,440.3 85,442.6 86,442.9 87,440.1 88,441.6 89,442.2 90,438.8 91,436.8 92,438.9 93,438 94,439.3 95,433 96,433.7 97,432.4 98,429.5 99,432.8 100,432.8 101,428.8 102,432.6 103,430.2 104,428.6 105,426.9 106,426.9 107,420.4 108,423.6 109,422.4 110,415.7 111,419.3 112,417.1 113,416.7 114,414.6 115,413.7 116,412.8 117,410.6 118,410.5 119,408.5 120,407.3 121,404.6 122,403.8 123,400.8 124,397.3 125,394.6 126,391.3 127,387.6 128,380.4 129,377.7 130,372.5 131,367.4 132,362.1 133,359.9 134,354.4 135,352.7 136,351 137,350.4 138,350.9 139,352.4 140,354.6 141,357.4 142,360.8 143,364.7 144,369.1 145,373.8 146,378.9 147,384.5 148,390.8 149,398.6 150,407.8 151,417.5 152,426.7 153,434.6 154,440.9 155,446 156,450.3 157,454.1 158,457.5 159,460.3 160,462.4 161,463.3 162,462.7 163,460.8 164,458.3 165,456.2 166,455.3 167,453.3 168,451.8 169,451.6 170,456.3 171,453.5 172,457.2 173,453.3 174,451.8 175,452.6 176,456.4 177,455.8 178,452.8 179,456.2 180,454.8 181,455.7 182,456.1 183,454.9 184,452.5 185,452.8 186,452.2 187,452 188,450.6 189,446.1 190,447.5 191,444 192,446 193,440.6 194,439.6 195,442.8 196,442.6 197,439.5 198,437.5 199,435.2 200,435.9 201,435.4 202,431.1 203,429.8 204,429.3 205,426.7 206,425.7 207,424.2 208,423.1 209,422.3 210,419.8 211,418.8 212,415.8 213,414.2 214,410.1 215,408.6 216,408.5 217,405.3 218,404 219,401.4 220,398.9 221,394.7 222,390.5 223,384.5 224,378.2 225,371.7 226,364.8 227,356.9 228,349.8 229,342.5 230,335.5 231,328.3 232,322.5 233,317.6 234,313.9 235,311.6 236,310.9 237,311.7 238,313.9 239,313.6 240,322 241,327.5 242,332.6 243,341.2 244,349.4 245,359.4 246,369.2 247,379.7 248,391 249,403.3 250,417.1 251,429.8 252,440.9 253,449.9 254,457.4 255,463.3 256,467.8 257,471.2 258,474.7 259,478.5 260,481.7 261,484.1 262,485.4 263,485.7 264,485 265,483.7 266,482.5 267,481.9 268,484.7 269,491.3 270,486.2 271,491.6 272,493.3 273,487.7 274,486.1 275,486.6 276,487.3 277,487.3 278,485.9 279,485.9 280,492 281,486 282,488.7 283,486 284,487.6 285,488.3 286,489.3 287,487 288,487.1 289,486.1 290,487.7 291,486.5 292,488 293,487.6 294,485.9 295,488.5 296,491.9 297,489.9 298,489.4 299,489.3 300,486.9 301,488.6 302,487.3 303,488.6 304,490.9 305,489.9 306,492 307,486.3 308,491.4 309,486.2" fill="none" stroke="#7a7a7a" stroke-width="0.8" stroke-linejoin="round" stroke-linecap="round"/>
<line x1="138.6" y1="337" x2="138.6" y2="388" stroke="#1a5d9c" stroke-width="1.4" stroke-dasharray="3,2.5"/>
<line x1="236.4" y1="297.5" x2="236.4" y2="360" stroke="#6a1070" stroke-width="1.4" stroke-dasharray="2.4,2.6"/>
<line x1="115.2" y1="397" x2="115.2" y2="433" stroke="#d07a20" stroke-width="1.5" stroke-dasharray="3,2.5"/>
<line x1="213.1" y1="400" x2="213.1" y2="442.5" stroke="#176b17" stroke-width="1.5" stroke-dasharray="3.5,2.5"/>
<polyline points="52,447.3 52.5,447.3 53,447.3 53.5,447.2 54,447.2 54.5,447.2 55,447.1 55.5,447.1 56,447 56.5,447 57,447 57.5,446.9 58,446.9 58.5,446.8 59,446.8 59.5,446.7 60,446.7 60.5,446.7 61,446.6 61.5,446.6 62,446.5 62.5,446.5 63,446.4 63.5,446.3 64,446.3 64.5,446.2 65,446.2 65.5,446.1 66,446.1 66.5,446 67,445.9 67.5,445.9 68,445.8 68.5,445.7 69,445.6 69.5,445.6 70,445.5 70.5,445.4 71,445.3 71.5,445.3 72,445.2 72.5,445.1 73,445 73.5,444.9 74,444.8 74.5,444.7 75,444.6 75.5,444.5 76,444.4 76.5,444.3 77,444.2 77.5,444 78,443.9 78.5,443.8 79,443.6 79.5,443.5 80,443.4 80.5,443.2 81,443.1 81.5,442.9 82,442.8 82.5,442.6 83,442.4 83.5,442.2 84,442.1 84.5,441.9 85,441.7 85.5,441.5 86,441.3 86.5,441 87,440.8 87.5,440.6 88,440.3 88.5,440.1 89,439.8 89.5,439.6 90,439.3 90.5,439 91,438.7 91.5,438.4 92,438.1 92.5,437.8 93,437.4 93.5,437.1 94,436.7 94.5,436.4 95,436 95.5,435.6 96,435.2 96.5,434.8 97,434.4 97.5,433.9 98,433.5 98.5,433 99,432.5 99.5,432.1 100,431.6 100.5,431 101,430.5 101.5,430 102,429.4 102.5,428.9 103,428.3 103.5,427.7 104,427.1 104.5,426.6 105,426 105.5,425.3 106,424.7 106.5,424.1 107,423.5 107.5,422.9 108,422.2 108.5,421.6 109,421 109.5,420.3 110,419.7 110.5,419.1 111,418.5 111.5,417.9 112,417.3 112.5,416.7 113,416.1 113.5,415.5 114,414.9 114.5,414.3 115,413.8 115.5,413.2 116,412.6 116.5,412 117,411.3 117.5,410.7 118,410 118.5,409.3 119,408.5 119.5,407.8 120,406.9 120.5,406 121,405.1 121.5,404 122,402.9 122.5,401.7 123,400.4 123.5,398.9 124,397.4 124.5,395.8 125,394.1 125.5,392.2 126,390.3 126.5,388.2 127,386.1 127.5,383.9 128,381.6 128.5,379.3 129,376.9 129.5,374.6 130,372.2 130.5,369.8 131,367.4 131.5,365.2 132,363 132.5,360.9 133,358.9 133.5,357.1 134,355.4 134.5,354 135,352.7 135.5,351.8 136,351 136.5,350.6 137,350.4 137.5,350.5 138,350.9 138.5,351.6 139,352.4 139.5,353.4 140,354.6 140.5,355.9 141,357.4 141.5,359 142,360.8 142.5,362.7 143,364.7 143.5,366.8 144,369.1 144.5,371.4 145,373.8 145.5,376.3 146,378.9 146.5,381.5 147,384.2 147.5,386.9 148,389.6 148.5,392.3 149,395 149.5,397.8 150,400.5 150.5,403.2 151,405.8 151.5,408.5 152,411 152.5,413.6 153,416.1 153.5,418.5 154,420.8 154.5,423.1 155,425.3 155.5,427.4 156,429.5 156.5,431.4 157,433.3 157.5,435.1 158,436.8 158.5,438.5 159,440 159.5,441.5 160,442.9 160.5,444.2 161,445.5 161.5,446.6 162,447.7 162.5,448.7 163,449.7 163.5,450.6 164,451.4 164.5,452.2 165,452.9 165.5,453.5 166,454.1 166.5,454.6 167,455.1 167.5,455.6 168,456 168.5,456.4 169,456.7 169.5,457 170,457.3 170.5,457.5 171,457.7 171.5,457.8 172,458 172.5,458.1 173,458.2 173.5,458.2 174,458.3 174.5,458.3 175,458.3 175.5,458.3 176,458.2 176.5,458.2 177,458.1 177.5,458 178,457.8 178.5,457.7 179,457.5 179.5,457.3 180,457.1 180.5,456.9 181,456.7 181.5,456.4 182,456.1 182.5,455.9 183,455.5 183.5,455.2 184,454.8 184.5,454.5 185,454.1 185.5,453.7 186,453.2 186.5,452.8 187,452.3 187.5,451.8 188,451.3 188.5,450.8 189,450.2 189.5,449.7 190,449.1 190.5,448.5 191,447.9 191.5,447.2 192,446.6 192.5,445.9 193,445.2 193.5,444.5 194,443.8 194.5,443.1 195,442.4 195.5,441.7 196,440.9 196.5,440.2 197,439.4 197.5,438.6 198,437.9 198.5,437.1 199,436.4 199.5,435.6 200,434.8 200.5,434.1 201,433.3 201.5,432.6 202,431.8 202.5,431.1 203,430.3 203.5,429.6 204,428.8 204.5,428.1 205,427.4 205.5,426.6 206,425.9 206.5,425.2 207,424.5 207.5,423.7 208,423 208.5,422.2 209,421.4 209.5,420.6 210,419.8 210.5,418.9 211,418 211.5,417.1 212,416.1 212.5,415.1 213,414 213.5,412.9 214,411.8 214.5,410.8 215,409.8 215.5,408.8 216,407.8 216.5,406.8 217,405.8 217.5,404.7 218,403.5 218.5,402.3 219,400.9 219.5,399.4 220,397.8 220.5,396 221,394.1 221.5,392 222,389.7 222.5,387.2 223,384.6 223.5,381.7 224,378.7 224.5,375.6 225,372.2 225.5,368.8 226,365.2 226.5,361.5 227,357.8 227.5,354 228,350.2 228.5,346.4 229,342.6 229.5,338.9 230,335.3 230.5,331.8 231,328.5 231.5,325.4 232,322.5 232.5,319.9 233,317.6 233.5,315.6 234,313.9 234.5,312.5 235,311.6 235.5,311 236,310.9 236.5,311.1 237,311.7 237.5,312.7 238,313.9 238.5,315.5 239,317.4 239.5,319.6 240,322.1 240.5,324.9 241,328 241.5,331.3 242,334.8 242.5,338.5 243,342.4 243.5,346.5 244,350.7 244.5,355 245,359.4 245.5,363.9 246,368.5 246.5,373.1 247,377.8 247.5,382.4 248,387 248.5,391.6 249,396.1 249.5,400.6 250,405 250.5,409.3 251,413.5 251.5,417.6 252,421.6 252.5,425.4 253,429.1 253.5,432.7 254,436.1 254.5,439.4 255,442.6 255.5,445.5 256,448.4 256.5,451.1 257,453.6 257.5,456 258,458.2 258.5,460.3 259,462.3 259.5,464.1 260,465.9 260.5,467.4 261,468.9 261.5,470.3 262,471.5 262.5,472.7 263,473.7 263.5,474.7 264,475.6 264.5,476.4 265,477.2 265.5,477.8 266,478.5 266.5,479 267,479.5 267.5,480 268,480.4 268.5,480.8 269,481.1 269.5,481.4 270,481.7 270.5,481.9 271,482.2 271.5,482.4 272,482.5 272.5,482.7 273,482.8 273.5,483 274,483.1 274.5,483.2 275,483.3 275.5,483.4 276,483.5 276.5,483.5 277,483.6 277.5,483.7 278,483.7 278.5,483.8 279,483.8 279.5,483.9 280,483.9 280.5,484 281,484 281.5,484 282,484.1 282.5,484.1 283,484.1 283.5,484.1 284,484.2 284.5,484.2 285,484.2 285.5,484.2 286,484.3 286.5,484.3 287,484.3 287.5,484.3 288,484.3 288.5,484.4 289,484.4 289.5,484.4 290,484.4 290.5,484.4 291,484.5 291.5,484.5 292,484.5 292.5,484.5 293,484.5 293.5,484.5 294,484.5 294.5,484.6 295,484.6 295.5,484.6 296,484.6 296.5,484.6 297,484.6 297.5,484.6 298,484.7 298.5,484.7 299,484.7 299.5,484.7 300,484.7 300.5,484.7 301,484.7 301.5,484.7 302,484.7 302.5,484.7 303,484.8 303.5,484.8 304,484.8 304.5,484.8 305,484.8 305.5,484.8 306,484.8 306.5,484.8 307,484.8 307.5,484.8 308,484.8" fill="none" stroke="#e3121b" stroke-width="3.2" stroke-linejoin="round" stroke-linecap="round"/>
<polyline points="199,463.4 199.5,463.3 200,463.3 200.5,463.3 201,463.3 201.5,463.3 202,463.2 202.5,463.2 203,463.2 203.5,463.1 204,463.1 204.5,463.1 205,463 205.5,462.9 206,462.9 206.5,462.8 207,462.7 207.5,462.6 208,462.5 208.5,462.3 209,462.1 209.5,461.9 210,461.7 210.5,461.4 211,461.1 211.5,460.7 212,460.3 212.5,459.8 213,459.3 213.5,458.7 214,458 214.5,457.2 215,456.3 215.5,455.3 216,454.2 216.5,452.9 217,451.6 217.5,450.1 218,448.4 218.5,446.6 219,444.6 219.5,442.3 220,439.9 220.5,437.3 221,434.6 221.5,431.6 222,428.6 222.5,425.3 223,421.7 223.5,417.8 224,413.7 224.5,409.5 225,405.2 225.5,400.7 226,396.2 226.5,392 227,388.1 227.5,384.3 228,380.4 228.5,376.3 229,372 229.5,367.8 230,364 230.5,360.4 231,357 231.5,353.7 232,350.5 232.5,347.1 233,343.7 233.5,340.3 234,337.2 234.5,334.3 235,331.3 235.5,328.3 236,325.8 236.5,324.6 237,325.2 237.5,327.3 238,330.2 238.5,333.3 239,335.9 239.5,338.2 240,340.6 240.5,343 241,345.5 241.5,348.1 242,351 242.5,354 243,357.3 243.5,360.7 244,364 244.5,367.4 245,370.7 245.5,374.2 246,377.6 246.5,380.9 247,384.1 247.5,387.2 248,390.6 248.5,394.5 249,399.7 249.5,405.5 250,410.6 250.5,415.3 251,419.8 251.5,424.1 252,428.1 252.5,431.8 253,435.3 253.5,438.6 254,441.8 254.5,444.7 255,447.4 255.5,449.7 256,451.8 256.5,453.6 257,455.2 257.5,456.9 258,458.7 258.5,460.6 259,462.6 259.5,464.3 260,466 260.5,467.6 261,469 261.5,470.4 262,471.6 262.5,472.8 263,473.9 263.5,474.9 264,475.8 264.5,476.6 265,477.4 265.5,478.2 266,478.8 266.5,479.4 267,480 267.5,480.5 268,480.9 268.5,481.4 269,481.7 269.5,482.1 270,482.4 270.5,482.7 271,483 271.5,483.2 272,483.4 272.5,483.6 273,483.8 273.5,484 274,484.1 274.5,484.2 275,484.4 275.5,484.5 276,484.6 276.5,484.7 277,484.7 277.5,484.8 278,484.9 278.5,485 279,485 279.5,485.1 280,485.1 280.5,485.2 281,485.2 281.5,485.3 282,485.3 282.5,485.4 283,485.4 283.5,485.4 284,485.5 284.5,485.5 285,485.5 285.5,485.6 286,485.6 286.5,485.6 287,485.6 287.5,485.7 288,485.7 288.5,485.7 289,485.7 289.5,485.7 290,485.8" fill="none" stroke="#7d1383" stroke-width="3.3" stroke-linejoin="round" stroke-linecap="round"/>
<polyline points="95,449.7 95.5,449.7 96,449.7 96.5,449.8 97,449.8 97.5,449.8 98,449.8 98.5,449.8 99,449.8 99.5,449.8 100,449.9 100.5,449.9 101,449.9 101.5,449.9 102,449.9 102.5,450 103,450 103.5,450 104,450 104.5,450.1 105,450.1 105.5,450.1 106,450.2 106.5,450.2 107,450.3 107.5,450.3 108,450.4 108.5,450.4 109,450.5 109.5,450.5 110,450.6 110.5,450.6 111,450.7 111.5,450.8 112,450.8 112.5,450.9 113,451 113.5,451.1 114,451.1 114.5,451.2 115,451.3 115.5,451.4 116,451.5 116.5,451.6 117,451.7 117.5,451.8 118,451.9 118.5,452 119,452.2 119.5,452.3 120,452.4 120.5,452.5 121,452.7 121.5,452.8 122,452.9 122.5,453.1 123,453.2 123.5,453.4 124,453.5 124.5,453.7 125,453.9 125.5,454 126,454.2 126.5,454.3 127,454.5 127.5,454.7 128,454.9 128.5,455 129,455.2 129.5,455.4 130,455.6 130.5,455.8 131,456 131.5,456.1 132,456.3 132.5,456.5 133,456.7 133.5,456.9 134,457.1 134.5,457.3 135,457.5 135.5,457.6 136,457.8 136.5,458 137,458.2 137.5,458.4 138,458.6 138.5,458.7 139,458.9 139.5,459.1 140,459.3 140.5,459.4 141,459.6 141.5,459.8 142,460 142.5,460.1 143,460.3 143.5,460.4 144,460.6 144.5,460.7 145,460.9 145.5,461 146,461.2 146.5,461.3 147,461.4 147.5,461.6 148,461.7 148.5,461.8 149,461.9 149.5,462 150,462.2 150.5,462.3 151,462.4 151.5,462.5 152,462.6 152.5,462.7 153,462.7 153.5,462.8 154,462.9 154.5,463 155,463.1 155.5,463.1 156,463.2 156.5,463.3 157,463.3 157.5,463.4 158,463.4 158.5,463.5 159,463.5 159.5,463.6 160,463.6 160.5,463.7 161,463.7 161.5,463.7 162,463.8 162.5,463.8 163,463.8 163.5,463.9 164,463.9 164.5,463.9 165,463.9 165.5,463.9 166,463.9 166.5,463.9 167,463.9 167.5,463.9 168,463.9 168.5,463.9 169,463.9 169.5,463.9 170,463.9 170.5,463.9 171,463.8 171.5,463.8 172,463.8 172.5,463.7 173,463.7 173.5,463.6 174,463.6 174.5,463.5 175,463.4 175.5,463.3 176,463.3 176.5,463.2 177,463.1 177.5,462.9 178,462.8 178.5,462.7 179,462.5 179.5,462.4 180,462.2 180.5,462 181,461.8 181.5,461.6 182,461.4 182.5,461.1 183,460.9 183.5,460.6 184,460.3 184.5,460 185,459.7 185.5,459.3 186,458.9 186.5,458.5 187,458.1 187.5,457.7 188,457.2 188.5,456.8 189,456.2 189.5,455.7 190,455.2 190.5,454.6 191,454 191.5,453.4 192,452.7 192.5,452.1 193,451.4 193.5,450.7 194,450 194.5,449.2 195,448.4 195.5,447.7 196,446.9 196.5,446.1 197,445.3 197.5,444.4 198,443.6 198.5,442.8 199,441.9 199.5,441.1 200,440.2 200.5,439.4 201,438.5 201.5,437.7 202,436.9 202.5,436.1 203,435.3 203.5,434.5 204,433.8 204.5,433.1 205,432.4 205.5,431.7 206,431.1 206.5,430.5 207,430 207.5,429.5 208,429 208.5,428.6 209,428.2 209.5,427.9 210,427.7 210.5,427.5 211,427.4 211.5,427.3 212,427.3 212.5,427.3 213,427.4 213.5,427.6 214,427.8 214.5,428 215,428.3 215.5,428.6 216,429 216.5,429.3 217,429.8 217.5,430.2 218,430.7 218.5,431.3 219,431.8 219.5,432.4 220,433.1 220.5,433.7 221,434.4 221.5,435.1 222,435.9 222.5,436.7 223,437.5 223.5,438.3 224,439.1 224.5,440 225,440.9 225.5,441.8 226,442.7 226.5,443.6 227,444.6 227.5,445.5 228,446.5 228.5,447.5 229,448.4 229.5,449.4 230,450.4 230.5,451.4 231,452.4 231.5,453.4 232,454.4 232.5,455.3 233,456.3 233.5,457.3 234,458.3 234.5,459.2 235,460.1 235.5,461.1 236,462 236.5,462.9 237,463.8 237.5,464.7 238,465.5 238.5,466.4 239,467.2 239.5,468 240,468.8 240.5,469.5 241,470.3 241.5,471 242,471.7 242.5,472.4 243,473.1 243.5,473.7 244,474.4 244.5,475 245,475.5 245.5,476.1 246,476.7 246.5,477.2 247,477.7 247.5,478.2 248,478.6 248.5,479.1 249,479.5 249.5,479.9 250,480.3 250.5,480.7 251,481 251.5,481.4 252,481.7 252.5,482 253,482.3 253.5,482.5 254,482.8 254.5,483.1 255,483.3 255.5,483.5 256,483.7 256.5,483.9 257,484.1 257.5,484.3 258,484.4 258.5,484.6 259,484.7 259.5,484.9 260,485 260.5,485.1 261,485.2" fill="none" stroke="#197a17" stroke-width="3" stroke-linejoin="round" stroke-linecap="round"/>
<polyline points="52,449.7 52.5,449.7 53,449.7 53.5,449.7 54,449.7 54.5,449.7 55,449.7 55.5,449.7 56,449.7 56.5,449.7 57,449.7 57.5,449.7 58,449.7 58.5,449.7 59,449.7 59.5,449.7 60,449.7 60.5,449.7 61,449.7 61.5,449.7 62,449.7 62.5,449.7 63,449.7 63.5,449.7 64,449.7 64.5,449.7 65,449.7 65.5,449.7 66,449.7 66.5,449.7 67,449.7 67.5,449.7 68,449.7 68.5,449.7 69,449.7 69.5,449.7 70,449.7 70.5,449.7 71,449.7 71.5,449.7 72,449.7 72.5,449.7 73,449.7 73.5,449.7 74,449.7 74.5,449.7 75,449.7 75.5,449.7 76,449.7 76.5,449.7 77,449.7 77.5,449.7 78,449.7 78.5,449.7 79,449.7 79.5,449.7 80,449.7 80.5,449.7 81,449.7 81.5,449.7 82,449.7 82.5,449.7 83,449.7 83.5,449.7 84,449.7 84.5,449.7 85,449.7 85.5,449.7 86,449.7 86.5,449.7 87,449.7 87.5,449.7 88,449.7 88.5,449.7 89,449.7 89.5,449.7 90,449.7 90.5,449.7 91,449.7 91.5,449.7 92,449.7 92.5,449.7 93,449.7 93.5,449.7 94,449.7 94.5,449.7 95,449.7 95.5,449.7 96,449.7 96.5,449.8 97,449.8 97.5,449.8 98,449.8 98.5,449.8 99,449.8 99.5,449.8 100,449.8 100.5,449.8 101,449.8 101.5,449.8 102,449.9 102.5,449.9 103,449.9 103.5,449.9 104,449.9 104.5,449.9 105,449.9 105.5,449.8 106,449.8 106.5,449.8 107,449.8 107.5,449.7 108,449.7 108.5,449.6 109,449.5 109.5,449.4 110,449.3 110.5,449.2 111,449 111.5,448.8 112,448.6 112.5,448.3 113,448.1 113.5,447.7 114,447.3 114.5,446.9 115,446.4 115.5,445.9 116,445.3 116.5,444.6 117,443.9 117.5,443.1 118,442.2 118.5,441.2 119,440.1 119.5,439 120,437.7 120.5,436.4 121,434.9 121.5,433.4 122,431.7 122.5,429.9 123,428.1 123.5,426.1 124,424 124.5,421.9 125,419.6 125.5,417.3 126,414.8 126.5,412.3 127,409.8 127.5,407.2 128,404.5 128.5,401.8 129,399.1 129.5,396.4 130,393.8 130.5,391.1 131,388.5 131.5,385.9 132,383.4 132.5,381 133,378.8 133.5,376.6 134,374.6 134.5,372.7 135,371.1 135.5,369.6 136,368.3 136.5,367.2 137,366.3 137.5,365.7 138,365.2 138.5,365.1 139,365.1 139.5,365.4 140,365.9 140.5,366.6 141,367.6 141.5,368.7 142,370.1 142.5,371.6 143,373.3 143.5,375.2 144,377.3 144.5,379.5 145,381.8 145.5,384.2 146,386.8 146.5,389.4 147,392.2 147.5,394.9 148,397.8 148.5,400.6 149,403.5 149.5,406.4 150,409.2 150.5,412.1 151,414.9 151.5,417.7 152,420.4 152.5,423.1 153,425.6 153.5,428.1 154,430.6 154.5,432.9 155,435.1 155.5,437.3 156,439.3 156.5,441.3 157,443.1 157.5,444.8 158,446.5 158.5,448 159,449.5 159.5,450.8 160,452.1 160.5,453.2 161,454.3 161.5,455.3 162,456.2 162.5,457.1 163,457.8 163.5,458.5 164,459.2 164.5,459.8 165,460.3 165.5,460.8 166,461.2 166.5,461.6 167,461.9 167.5,462.2 168,462.5" fill="none" stroke="#1f74d6" stroke-width="3" stroke-linejoin="round" stroke-linecap="round"/>
<polyline points="52,447.5 52.5,447.5 53,447.5 53.5,447.4 54,447.4 54.5,447.4 55,447.3 55.5,447.3 56,447.2 56.5,447.2 57,447.2 57.5,447.1 58,447.1 58.5,447.1 59,447 59.5,447 60,446.9 60.5,446.9 61,446.8 61.5,446.8 62,446.7 62.5,446.7 63,446.6 63.5,446.6 64,446.5 64.5,446.5 65,446.4 65.5,446.4 66,446.3 66.5,446.2 67,446.2 67.5,446.1 68,446.1 68.5,446 69,445.9 69.5,445.8 70,445.8 70.5,445.7 71,445.6 71.5,445.5 72,445.5 72.5,445.4 73,445.3 73.5,445.2 74,445.1 74.5,445 75,444.9 75.5,444.8 76,444.7 76.5,444.6 77,444.5 77.5,444.4 78,444.2 78.5,444.1 79,444 79.5,443.9 80,443.7 80.5,443.6 81,443.4 81.5,443.3 82,443.1 82.5,443 83,442.8 83.5,442.6 84,442.5 84.5,442.3 85,442.1 85.5,441.9 86,441.7 86.5,441.5 87,441.3 87.5,441 88,440.8 88.5,440.6 89,440.3 89.5,440 90,439.8 90.5,439.5 91,439.2 91.5,438.9 92,438.6 92.5,438.3 93,438 93.5,437.7 94,437.3 94.5,437 95,436.6 95.5,436.2 96,435.8 96.5,435.4 97,435 97.5,434.6 98,434.1 98.5,433.7 99,433.2 99.5,432.8 100,432.3 100.5,431.8 101,431.3 101.5,430.8 102,430.2 102.5,429.7 103,429.2 103.5,428.6 104,428.1 104.5,427.5 105,426.9 105.5,426.4 106,425.8 106.5,425.2 107,424.7 107.5,424.1 108,423.6 108.5,423 109,422.5 109.5,422 110,421.5 110.5,421 111,420.6 111.5,420.1 112,419.8 112.5,419.4 113,419.1 113.5,418.8 114,418.6 114.5,418.4 115,418.3 115.5,418.2 116,418.2 116.5,418.2 117,418.3 117.5,418.4 118,418.6 118.5,418.9 119,419.2 119.5,419.6 120,420 120.5,420.5 121,421.1 121.5,421.7 122,422.3 122.5,423 123,423.7 123.5,424.4 124,425.2 124.5,425.9 125,426.7 125.5,427.6 126,428.4 126.5,429.2 127,430 127.5,430.9 128,431.7 128.5,432.5 129,433.4 129.5,434.2 130,435 130.5,435.8 131,436.6 131.5,437.4 132,438.1 132.5,438.9 133,439.6 133.5,440.3 134,441 134.5,441.7 135,442.4 135.5,443.1 136,443.7 136.5,444.3 137,445 137.5,445.6 138,446.1 138.5,446.7 139,447.3 139.5,447.8 140,448.3 140.5,448.8 141,449.3 141.5,449.8 142,450.3 142.5,450.7 143,451.2 143.5,451.6 144,452 144.5,452.4 145,452.8 145.5,453.2 146,453.5 146.5,453.9 147,454.2 147.5,454.6 148,454.9 148.5,455.2 149,455.5 149.5,455.8 150,456.1 150.5,456.3 151,456.6 151.5,456.8 152,457.1 152.5,457.3 153,457.5 153.5,457.8 154,458 154.5,458.2 155,458.4 155.5,458.6 156,458.7 156.5,458.9 157,459.1 157.5,459.2 158,459.4 158.5,459.5 159,459.7 159.5,459.8 160,459.9 160.5,460.1 161,460.2 161.5,460.3 162,460.4 162.5,460.5 163,460.6 163.5,460.7 164,460.8 164.5,460.9 165,461 165.5,461.1 166,461.2 166.5,461.3 167,461.3 167.5,461.4 168,461.5 168.5,461.6 169,461.6 169.5,461.7 170,461.7 170.5,461.8 171,461.9 171.5,461.9 172,462 172.5,462 173,462.1 173.5,462.1 174,462.2 174.5,462.2 175,462.2 175.5,462.3 176,462.3 176.5,462.4 177,462.4 177.5,462.4 178,462.5 178.5,462.5 179,462.5 179.5,462.6 180,462.6 180.5,462.6 181,462.7 181.5,462.7 182,462.7 182.5,462.8 183,462.8 183.5,462.8 184,462.8 184.5,462.9 185,462.9 185.5,462.9 186,462.9 186.5,463 187,463 187.5,463 188,463 188.5,463.1 189,463.1 189.5,463.1 190,463.1 190.5,463.2 191,463.2 191.5,463.2 192,463.2 192.5,463.3 193,463.3 193.5,463.3 194,463.3 194.5,463.4 195,463.4 195.5,463.4 196,463.4 196.5,463.5 197,463.5 197.5,463.5 198,463.6 198.5,463.6 199,463.6 199.5,463.7 200,463.7 200.5,463.7 201,463.8 201.5,463.8 202,463.9 202.5,463.9 203,464 203.5,464 204,464.1 204.5,464.1 205,464.2 205.5,464.3 206,464.3 206.5,464.4 207,464.5 207.5,464.6 208,464.7 208.5,464.8 209,464.9 209.5,465 210,465.1 210.5,465.2 211,465.3 211.5,465.4 212,465.6 212.5,465.7 213,465.8 213.5,466 214,466.1 214.5,466.3 215,466.5 215.5,466.7 216,466.8 216.5,467 217,467.2 217.5,467.4 218,467.7 218.5,467.9 219,468.1 219.5,468.4 220,468.6 220.5,468.8 221,469.1 221.5,469.4 222,469.6 222.5,469.9 223,470.2 223.5,470.5 224,470.8 224.5,471.1 225,471.4 225.5,471.7 226,472 226.5,472.3 227,472.6 227.5,473 228,473.3 228.5,473.6 229,473.9 229.5,474.3 230,474.6 230.5,474.9 231,475.3 231.5,475.6 232,475.9 232.5,476.3 233,476.6 233.5,476.9 234,477.3 234.5,477.6 235,477.9 235.5,478.2 236,478.5 236.5,478.8 237,479.1 237.5,479.4 238,479.7 238.5,480 239,480.3 239.5,480.6 240,480.8 240.5,481.1 241,481.3 241.5,481.6 242,481.8 242.5,482.1 243,482.3 243.5,482.5 244,482.7 244.5,482.9 245,483.1 245.5,483.3 246,483.5 246.5,483.7 247,483.8 247.5,484 248,484.2 248.5,484.3 249,484.4 249.5,484.6 250,484.7 250.5,484.8 251,484.9 251.5,485 252,485.2 252.5,485.2 253,485.3 253.5,485.4 254,485.5 254.5,485.6 255,485.7 255.5,485.7 256,485.8 256.5,485.8 257,485.9 257.5,486 258,486 258.5,486 259,486.1 259.5,486.1 260,486.2 260.5,486.2 261,486.2 261.5,486.3 262,486.3 262.5,486.3 263,486.3 263.5,486.4 264,486.4 264.5,486.4 265,486.4 265.5,486.4 266,486.4 266.5,486.5 267,486.5 267.5,486.5 268,486.5 268.5,486.5 269,486.5 269.5,486.5 270,486.5 270.5,486.5 271,486.5 271.5,486.5 272,486.5 272.5,486.6 273,486.6 273.5,486.6 274,486.6 274.5,486.6 275,486.6 275.5,486.6 276,486.6 276.5,486.6 277,486.6 277.5,486.6 278,486.6 278.5,486.6 279,486.6 279.5,486.6 280,486.6 280.5,486.6 281,486.6 281.5,486.6 282,486.6 282.5,486.6 283,486.6 283.5,486.6 284,486.6 284.5,486.6 285,486.6 285.5,486.6 286,486.6 286.5,486.6 287,486.6 287.5,486.6 288,486.6 288.5,486.6 289,486.6 289.5,486.6 290,486.6 290.5,486.6 291,486.6 291.5,486.6 292,486.6 292.5,486.6 293,486.7 293.5,486.7 294,486.7 294.5,486.7 295,486.7 295.5,486.7 296,486.7 296.5,486.7 297,486.7 297.5,486.7 298,486.7 298.5,486.7 299,486.7 299.5,486.7 300,486.7 300.5,486.7 301,486.7 301.5,486.7 302,486.7 302.5,486.7 303,486.7 303.5,486.7 304,486.7 304.5,486.7 305,486.7 305.5,486.7 306,486.7 306.5,486.7 307,486.7 307.5,486.7 308,486.7" fill="none" stroke="#f08c22" stroke-width="3" stroke-linejoin="round" stroke-linecap="round"/>
<rect x="34.1" y="276.8" width="282.1" height="226.9" fill="none" stroke="#111" stroke-width="2"/>
<line x1="53.5" y1="503.7" x2="53.5" y2="507.5" stroke="#111" stroke-width="1.8"/>
<text transform="translate(52.3,518.9) scale(0.9,1)" x="0" y="0" font-size="13.5" font-weight="bold" fill="#111" stroke="#111" stroke-width="0.22" text-anchor="middle" textLength="21.00" lengthAdjust="spacing">345</text>
<line x1="110.0" y1="503.7" x2="110.0" y2="507.5" stroke="#111" stroke-width="1.8"/>
<text transform="translate(108.8,518.9) scale(0.9,1)" x="0" y="0" font-size="13.5" font-weight="bold" fill="#111" stroke="#111" stroke-width="0.22" text-anchor="middle" textLength="21.00" lengthAdjust="spacing">342</text>
<line x1="166.5" y1="503.7" x2="166.5" y2="507.5" stroke="#111" stroke-width="1.8"/>
<text transform="translate(165.3,518.9) scale(0.9,1)" x="0" y="0" font-size="13.5" font-weight="bold" fill="#111" stroke="#111" stroke-width="0.22" text-anchor="middle" textLength="21.00" lengthAdjust="spacing">339</text>
<line x1="223.0" y1="503.7" x2="223.0" y2="507.5" stroke="#111" stroke-width="1.8"/>
<text transform="translate(221.8,518.9) scale(0.9,1)" x="0" y="0" font-size="13.5" font-weight="bold" fill="#111" stroke="#111" stroke-width="0.22" text-anchor="middle" textLength="21.00" lengthAdjust="spacing">336</text>
<line x1="279.5" y1="503.7" x2="279.5" y2="507.5" stroke="#111" stroke-width="1.8"/>
<text transform="translate(278.3,518.9) scale(0.9,1)" x="0" y="0" font-size="13.5" font-weight="bold" fill="#111" stroke="#111" stroke-width="0.22" text-anchor="middle" textLength="21.00" lengthAdjust="spacing">333</text>
<text transform="translate(109.6,532.4) scale(0.9,1)" x="0" y="0" font-size="13.8" font-weight="bold" fill="#111" stroke="#111" stroke-width="0.22" textLength="145.00" lengthAdjust="spacing">Binding Energy (eV)</text>
<text x="0.4" y="288.5" font-size="28.5" font-weight="normal" fill="#111" stroke="#111" stroke-width="0.12" textLength="30.6" lengthAdjust="spacingAndGlyphs">(c)</text>
<text transform="translate(44.3,298.4) scale(0.9,1)" x="0" y="0" font-size="13" font-weight="bold" fill="#b8202e" stroke="#b8202e" stroke-width="0.21" textLength="51.67" lengthAdjust="spacing">PPC-0.3</text>
<text transform="translate(103.3,325.8) scale(0.9,1)" x="0" y="0" font-size="17" font-weight="bold" fill="#2a7ab8" stroke="#2a7ab8" stroke-width="0.27" textLength="65.33" lengthAdjust="spacing">Pd(0)3d</text>
<text transform="translate(163.7,332.5) scale(0.9,1)" x="0" y="0" font-size="8.5" font-weight="bold" fill="#2a7ab8" stroke="#2a7ab8" stroke-width="0.14" textLength="14.56" lengthAdjust="spacing">3/2</text>
<text transform="translate(208.5,295.2) scale(0.9,1)" x="0" y="0" font-size="17.5" font-weight="bold" fill="#7b1e86" stroke="#7b1e86" stroke-width="0.28" textLength="65.56" lengthAdjust="spacing">Pd(0)3d</text>
<text transform="translate(269.3,302.6) scale(0.9,1)" x="0" y="0" font-size="8.5" font-weight="bold" fill="#7b1e86" stroke="#7b1e86" stroke-width="0.14" textLength="14.22" lengthAdjust="spacing">5/2</text>
<text transform="translate(58.1,386.4) scale(0.9,1)" x="0" y="0" font-size="14" font-weight="bold" fill="#e0893a" stroke="#e0893a" stroke-width="0.22" textLength="59.67" lengthAdjust="spacing">PdOx/Pd</text>
<text transform="translate(69.8,403.8) scale(0.9,1)" x="0" y="0" font-size="14" font-weight="bold" fill="#e0893a" stroke="#e0893a" stroke-width="0.22" textLength="13.89" lengthAdjust="spacing">3d</text>
<text transform="translate(84.1,409.2) scale(0.9,1)" x="0" y="0" font-size="7" font-weight="bold" fill="#e0893a" stroke="#e0893a" stroke-width="0.11" textLength="9.44" lengthAdjust="spacing">3/2</text>
<text transform="translate(156.6,386.4) scale(0.9,1)" x="0" y="0" font-size="14" font-weight="bold" fill="#1e7a22" stroke="#1e7a22" stroke-width="0.22" textLength="59.11" lengthAdjust="spacing">PdOx/Pd</text>
<text transform="translate(170.9,403.8) scale(0.9,1)" x="0" y="0" font-size="14" font-weight="bold" fill="#1e7a22" stroke="#1e7a22" stroke-width="0.22" textLength="14.33" lengthAdjust="spacing">3d</text>
<text transform="translate(185.6,409.2) scale(0.9,1)" x="0" y="0" font-size="7" font-weight="bold" fill="#1e7a22" stroke="#1e7a22" stroke-width="0.11" textLength="9.44" lengthAdjust="spacing">5/2</text>
<polyline points="384.1,411.8 386.2,425.2 388.2,439.6 390.3,421.1 391.3,422.1 393.4,447.8 395.4,464.2 397.5,462.2 400.5,480.7 402.6,466.3 404.7,456 407.7,462.2 410.8,435.5 412.5,424.2 413.9,441.6 416,466.3 417,482.7 419,458.1 421.1,443.7 423.1,451.9 425.6,419 427.3,447.8 429.3,466.3 432.4,480.7 434.5,472.5 437.5,462.2 439.6,445.7 441.9,457.3 444.9,451.3 447.9,439.4 450.9,445.4 453.9,424.5 455.4,403.6 458.4,382.7 461.3,406.6 464.3,373.7 467.3,348.4 470.3,379.7 472.4,394.6 474.8,388.7 477.8,397.6 480.7,364.8 483.7,339.4 486.7,367.8 488.2,337.9 489.5,383.5 492.7,389.8 495.9,367.6 499,383.5 502.2,415.2 505.4,405.7 508.6,424.8 511.7,415.2 514.9,434.3 518.1,450.2 520.6,466 522.9,453.3 526,440.6 529.2,453.3 532.4,462.9 535.6,472.4 538.7,459.7 541.9,447 543.5,472.4 545.1,431.1 548.3,447 551.4,440.6 554.6,424.8 556.9,475.5 558.7,441.9 560.6,479.2 562.5,430.7 566.2,438.2 570,419.5 573.7,430.7 577.4,397.1 581.1,374.7 584.9,337.3 588.6,341.1 592.3,344.8 596.1,333.6 597.9,314.9 599.8,322.4 601.7,313.1 603.5,333.6 607.3,363.5 611,378.4 614.7,363.5 618.5,359.7 622.2,389.6 625.9,404.6 629.7,393.4 631.5,419.5 633.4,456.8 637.1,464.3 639,475.5" fill="none" stroke="#6e6e6e" stroke-width="0.9" stroke-linejoin="round"/>
<line x1="424.6" y1="430" x2="424.6" y2="497" stroke="#dc8a3a" stroke-width="1.5" stroke-dasharray="3.2,2.2"/>
<line x1="473.3" y1="337" x2="473.3" y2="497" stroke="#2a6aaa" stroke-width="1.6" stroke-dasharray="4,2.6"/>
<line x1="544.2" y1="426" x2="544.2" y2="497" stroke="#dc8a3a" stroke-width="1.5" stroke-dasharray="3.2,2.2"/>
<line x1="595.5" y1="311" x2="595.5" y2="497" stroke="#1a7a2a" stroke-width="1.6" stroke-dasharray="3,2"/>
<polyline points="383,454.8 383.5,454.8 384,454.8 384.5,454.8 385,454.8 385.5,454.8 386,454.8 386.5,454.8 387,454.8 387.5,454.8 388,454.8 388.5,454.8 389,454.8 389.5,454.8 390,454.8 390.5,454.8 391,454.8 391.5,454.8 392,454.8 392.5,454.8 393,454.8 393.5,454.8 394,454.8 394.5,454.8 395,454.8 395.5,454.8 396,454.8 396.5,454.8 397,454.8 397.5,454.8 398,454.8 398.5,454.8 399,454.8 399.5,454.8 400,454.8 400.5,454.8 401,454.8 401.5,454.8 402,454.8 402.5,454.8 403,454.8 403.5,454.8 404,454.8 404.5,454.8 405,454.8 405.5,454.8 406,454.8 406.5,454.8 407,454.8 407.5,454.8 408,454.8 408.5,454.8 409,454.8 409.5,454.8 410,454.8 410.5,454.8 411,454.8 411.5,454.8 412,454.8 412.5,454.8 413,454.8 413.5,454.8 414,454.8 414.5,454.8 415,454.8 415.5,454.8 416,454.8 416.5,454.8 417,454.8 417.5,454.8 418,454.8 418.5,454.8 419,454.8 419.5,454.8 420,454.8 420.5,454.8 421,454.8 421.5,454.8 422,454.8 422.5,454.8 423,454.8 423.5,454.8 424,454.8 424.5,454.8 425,454.8 425.5,454.8 426,454.8 426.5,454.8 427,454.8 427.5,454.8 428,454.8 428.5,454.8 429,454.8 429.5,454.8 430,454.8 430.5,454.8 431,454.8 431.5,454.8 432,454.8 432.5,454.8 433,454.8 433.5,454.8 434,454.8 434.5,454.8 435,454.8 435.5,454.8 436,454.8 436.5,454.8 437,454.8 437.5,454.8 438,454.8 438.5,454.8 439,454.8 439.5,454.8 440,454.8 440.5,454.8 441,454.8 441.5,454.9 442,454.9 442.5,454.9 443,454.9 443.5,454.9 444,454.9 444.5,454.9 445,454.9 445.5,454.9 446,454.9 446.5,454.9 447,455 447.5,455 448,455 448.5,455 449,455 449.5,455 450,455.1 450.5,455.1 451,455.1 451.5,455.1 452,455.1 452.5,455.2 453,455.2 453.5,455.2 454,455.2 454.5,455.3 455,455.3 455.5,455.3 456,455.4 456.5,455.4 457,455.4 457.5,455.5 458,455.5 458.5,455.5 459,455.6 459.5,455.6 460,455.7 460.5,455.7 461,455.8 461.5,455.8 462,455.9 462.5,455.9 463,456 463.5,456 464,456.1 464.5,456.1 465,456.2 465.5,456.3 466,456.3 466.5,456.4 467,456.5 467.5,456.5 468,456.6 468.5,456.7 469,456.8 469.5,456.8 470,456.9 470.5,457 471,457.1 471.5,457.2 472,457.3 472.5,457.4 473,457.4 473.5,457.5 474,457.6 474.5,457.7 475,457.8 475.5,457.9 476,458 476.5,458.1 477,458.3 477.5,458.4 478,458.5 478.5,458.6 479,458.7 479.5,458.8 480,458.9 480.5,459 481,459.1 481.5,459.3 482,459.4 482.5,459.5 483,459.6 483.5,459.7 484,459.8 484.5,460 485,460.1 485.5,460.2 486,460.3 486.5,460.4 487,460.6 487.5,460.7 488,460.8 488.5,460.9 489,461 489.5,461.1 490,461.3 490.5,461.4 491,461.5 491.5,461.6 492,461.7 492.5,461.8 493,461.9 493.5,462.1 494,462.2 494.5,462.3 495,462.4 495.5,462.5 496,462.6 496.5,462.7 497,462.8 497.5,462.9 498,463 498.5,463.1 499,463.2 499.5,463.3 500,463.4 500.5,463.4 501,463.5 501.5,463.6 502,463.7 502.5,463.8 503,463.9 503.5,463.9 504,464 504.5,464.1 505,464.2 505.5,464.2 506,464.3 506.5,464.4 507,464.4 507.5,464.5 508,464.5 508.5,464.6 509,464.7 509.5,464.7 510,464.8 510.5,464.8 511,464.9 511.5,464.9 512,465 512.5,465 513,465 513.5,465.1 514,465.1 514.5,465.2 515,465.2 515.5,465.2 516,465.3 516.5,465.3 517,465.3 517.5,465.4 518,465.4 518.5,465.4 519,465.4 519.5,465.5 520,465.5 520.5,465.5 521,465.5 521.5,465.6 522,465.6 522.5,465.6 523,465.6 523.5,465.6 524,465.7 524.5,465.7 525,465.7 525.5,465.7 526,465.7 526.5,465.7 527,465.8 527.5,465.8 528,465.8 528.5,465.8 529,465.8 529.5,465.8 530,465.8 530.5,465.8 531,465.9 531.5,465.9 532,465.9 532.5,465.9 533,465.9 533.5,465.9 534,465.9 534.5,465.9 535,465.9 535.5,465.9 536,466 536.5,466 537,466 537.5,466 538,466 538.5,466 539,466 539.5,466 540,466 540.5,466.1 541,466.1 541.5,466.1 542,466.1 542.5,466.1 543,466.1 543.5,466.1 544,466.1 544.5,466.2 545,466.2 545.5,466.2 546,466.2 546.5,466.2 547,466.2 547.5,466.2 548,466.3 548.5,466.3 549,466.3 549.5,466.3 550,466.3 550.5,466.3 551,466.4 551.5,466.4 552,466.4 552.5,466.4 553,466.4 553.5,466.5 554,466.5 554.5,466.5 555,466.5 555.5,466.5 556,466.6 556.5,466.6 557,466.6 557.5,466.6 558,466.7 558.5,466.7 559,466.7 559.5,466.8 560,466.8 560.5,466.8 561,466.8 561.5,466.9 562,466.9 562.5,466.9 563,467 563.5,467 564,467 564.5,467.1 565,467.1 565.5,467.1 566,467.2 566.5,467.2 567,467.3 567.5,467.3 568,467.3 568.5,467.4 569,467.4 569.5,467.5 570,467.5 570.5,467.6 571,467.6 571.5,467.7 572,467.7 572.5,467.8 573,467.8 573.5,467.9 574,467.9 574.5,468 575,468 575.5,468.1 576,468.1 576.5,468.2 577,468.3 577.5,468.3 578,468.4 578.5,468.4 579,468.5 579.5,468.6 580,468.6 580.5,468.7 581,468.8 581.5,468.8 582,468.9 582.5,469 583,469 583.5,469.1 584,469.2 584.5,469.3 585,469.3 585.5,469.4 586,469.5 586.5,469.6 587,469.6 587.5,469.7 588,469.8 588.5,469.9 589,470 589.5,470.1 590,470.1 590.5,470.2 591,470.3 591.5,470.4 592,470.5 592.5,470.6 593,470.7 593.5,470.8 594,470.9 594.5,471 595,471.1 595.5,471.2 596,471.3 596.5,471.4 597,471.5 597.5,471.6 598,471.7 598.5,471.8 599,471.9 599.5,472 600,472.1 600.5,472.2 601,472.3 601.5,472.4 602,472.5 602.5,472.6 603,472.7 603.5,472.8 604,472.9 604.5,473.1 605,473.2 605.5,473.3 606,473.4 606.5,473.5 607,473.6 607.5,473.8 608,473.9 608.5,474 609,474.1 609.5,474.2 610,474.3 610.5,474.5 611,474.6 611.5,474.7 612,474.8 612.5,475 613,475.1 613.5,475.2 614,475.3 614.5,475.4 615,475.6 615.5,475.7 616,475.8 616.5,475.9 617,476.1 617.5,476.2 618,476.3 618.5,476.4 619,476.6 619.5,476.7 620,476.8 620.5,476.9 621,477.1 621.5,477.2 622,477.3 622.5,477.4 623,477.6 623.5,477.7 624,477.8 624.5,477.9 625,478.1 625.5,478.2 626,478.3 626.5,478.4 627,478.6 627.5,478.7 628,478.8 628.5,478.9 629,479.1 629.5,479.2 630,479.3 630.5,479.4 631,479.5 631.5,479.7 632,479.8 632.5,479.9 633,480 633.5,480.1 634,480.2 634.5,480.4 635,480.5 635.5,480.6 636,480.7 636.5,480.8 637,480.9 637.5,481 638,481.2 638.5,481.3" fill="none" stroke="#dcdc7a" stroke-width="1.2" stroke-linejoin="round" stroke-linecap="round"/>
<polyline points="383,453.5 383.5,453.5 384,453.5 384.5,453.5 385,453.5 385.5,453.5 386,453.4 386.5,453.4 387,453.4 387.5,453.4 388,453.4 388.5,453.4 389,453.4 389.5,453.4 390,453.4 390.5,453.4 391,453.4 391.5,453.3 392,453.3 392.5,453.3 393,453.3 393.5,453.3 394,453.3 394.5,453.3 395,453.3 395.5,453.3 396,453.3 396.5,453.3 397,453.3 397.5,453.3 398,453.2 398.5,453.2 399,453.2 399.5,453.2 400,453.2 400.5,453.2 401,453.2 401.5,453.2 402,453.2 402.5,453.2 403,453.2 403.5,453.2 404,453.2 404.5,453.2 405,453.1 405.5,453.1 406,453.1 406.5,453.1 407,453.1 407.5,453.1 408,453.1 408.5,453.1 409,453.1 409.5,453.1 410,453.1 410.5,453.1 411,453.1 411.5,453.1 412,453.1 412.5,453.1 413,453.1 413.5,453.1 414,453.1 414.5,453.1 415,453.1 415.5,453.1 416,453 416.5,453 417,453 417.5,453 418,453 418.5,453 419,453 419.5,453 420,453 420.5,453 421,453 421.5,453 422,453 422.5,453 423,453 423.5,453 424,453 424.5,453 425,453 425.5,453 426,453 426.5,453 427,453 427.5,453 428,453 428.5,453 429,453 429.5,453 430,453 430.5,453.1 431,453.1 431.5,453.1 432,453.1 432.5,453.1 433,453.1 433.5,453.1 434,453.1 434.5,453.1 435,453.1 435.5,453.1 436,453.1 436.5,453.1 437,453.1 437.5,453.2 438,453.2 438.5,453.2 439,453.2 439.5,453.2 440,453.2 440.5,453.2 441,453.2 441.5,453.2 442,453.3 442.5,453.3 443,453.3 443.5,453.3 444,453.3 444.5,453.3 445,453.4 445.5,453.4 446,453.4 446.5,453.4 447,453.4 447.5,453.5 448,453.5 448.5,453.5 449,453.5 449.5,453.6 450,453.6 450.5,453.6 451,453.6 451.5,453.7 452,453.7 452.5,453.7 453,453.7 453.5,453.8 454,453.8 454.5,453.8 455,453.9 455.5,453.9 456,453.9 456.5,454 457,454 457.5,454 458,454.1 458.5,454.1 459,454.2 459.5,454.2 460,454.2 460.5,454.3 461,454.3 461.5,454.4 462,454.4 462.5,454.5 463,454.5 463.5,454.6 464,454.6 464.5,454.7 465,454.7 465.5,454.8 466,454.8 466.5,454.9 467,454.9 467.5,455 468,455 468.5,455.1 469,455.1 469.5,455.2 470,455.3 470.5,455.3 471,455.4 471.5,455.5 472,455.5 472.5,455.6 473,455.6 473.5,455.7 474,455.8 474.5,455.8 475,455.9 475.5,456 476,456.1 476.5,456.1 477,456.2 477.5,456.3 478,456.3 478.5,456.4 479,456.5 479.5,456.6 480,456.6 480.5,456.7 481,456.8 481.5,456.9 482,456.9 482.5,457 483,457.1 483.5,457.2 484,457.2 484.5,457.3 485,457.4 485.5,457.5 486,457.6 486.5,457.6 487,457.7 487.5,457.8 488,457.9 488.5,458 489,458 489.5,458.1 490,458.2 490.5,458.3 491,458.4 491.5,458.4 492,458.5 492.5,458.6 493,458.7 493.5,458.8 494,458.8 494.5,458.9 495,459 495.5,459.1 496,459.1 496.5,459.2 497,459.3 497.5,459.4 498,459.4 498.5,459.5 499,459.6 499.5,459.7 500,459.7 500.5,459.8 501,459.9 501.5,459.9 502,460 502.5,460 503,460.1 503.5,460.2 504,460.2 504.5,460.3 505,460.3 505.5,460.4 506,460.4 506.5,460.5 507,460.5 507.5,460.6 508,460.6 508.5,460.7 509,460.7 509.5,460.8 510,460.8 510.5,460.8 511,460.9 511.5,460.9 512,460.9 512.5,460.9 513,461 513.5,461 514,461 514.5,461 515,461 515.5,461 516,461 516.5,461 517,461 517.5,461 518,461 518.5,461 519,461 519.5,461 520,461 520.5,460.9 521,460.9 521.5,460.9 522,460.8 522.5,460.8 523,460.8 523.5,460.7 524,460.7 524.5,460.6 525,460.5 525.5,460.5 526,460.4 526.5,460.3 527,460.2 527.5,460.2 528,460.1 528.5,460 529,459.9 529.5,459.8 530,459.7 530.5,459.5 531,459.4 531.5,459.3 532,459.2 532.5,459 533,458.9 533.5,458.7 534,458.6 534.5,458.4 535,458.2 535.5,458 536,457.8" fill="none" stroke="#22a448" stroke-width="2.5" stroke-linejoin="round" stroke-linecap="round"/>
<polyline points="534,458.6 534.5,458.4 535,458.2 535.5,458 536,457.8 536.5,457.7 537,457.4 537.5,457.2 538,457 538.5,456.8 539,456.6 539.5,456.3 540,456.1 540.5,455.8 541,455.5 541.5,455.2 542,455 542.5,454.7 543,454.3 543.5,454 544,453.7 544.5,453.3 545,453 545.5,452.6 546,452.2 546.5,451.8 547,451.4 547.5,451 548,450.6 548.5,450.1 549,449.7" fill="none" stroke="#22a448" stroke-width="2.9" stroke-linejoin="round" stroke-linecap="round"/>
<polyline points="547,451.4 547.5,451 548,450.6 548.5,450.1 549,449.7 549.5,449.2 550,448.7 550.5,448.2 551,447.7 551.5,447.1 552,446.6 552.5,446 553,445.4 553.5,444.8 554,444.2 554.5,443.5 555,442.8 555.5,442.1 556,441.4 556.5,440.7 557,439.9 557.5,439.1 558,438.3 558.5,437.5 559,436.6 559.5,435.8 560,434.9 560.5,433.9 561,433 561.5,432 562,430.9 562.5,429.9 563,428.8 563.5,427.7 564,426.6 564.5,425.4 565,424.2 565.5,423 566,421.7 566.5,420.4 567,419.1 567.5,417.7 568,416.3 568.5,414.9 569,413.4 569.5,411.9 570,410.3 570.5,408.8 571,407.1 571.5,405.5 572,403.8 572.5,402.1 573,400.3 573.5,398.6 574,396.7 574.5,394.9 575,393 575.5,391.1 576,389.2 576.5,387.2 577,385.2 577.5,383.2 578,381.1 578.5,379.1 579,377 579.5,374.9 580,372.8 580.5,370.6 581,368.5 581.5,366.4 582,364.3 582.5,362.2 583,360.1 583.5,358 584,355.9 584.5,353.9 585,351.9 585.5,350 586,348.1 586.5,346.3 587,344.5 587.5,342.9 588,341.3 588.5,339.8 589,338.4 589.5,337.1 590,336 590.5,334.9 591,334.1 591.5,333.3 592,332.7 592.5,332.3 593,332 593.5,331.9 594,331.9 594.5,332.2 595,332.6 595.5,333.1 596,333.8 596.5,334.6 597,335.5 597.5,336.4 598,337.4 598.5,338.5 599,339.6 599.5,340.9 600,342.1 600.5,343.5 601,344.9 601.5,346.3 602,347.8 602.5,349.4 603,351 603.5,352.6 604,354.3 604.5,356 605,357.8 605.5,359.5 606,361.3 606.5,363.2 607,365 607.5,366.9 608,368.8 608.5,370.7 609,372.6 609.5,374.5 610,376.5 610.5,378.4 611,380.4 611.5,382.3 612,384.2 612.5,386.1 613,388.1 613.5,390 614,391.9 614.5,393.8 615,395.7 615.5,397.5 616,399.4 616.5,401.2 617,403.1 617.5,404.9 618,406.7 618.5,408.4 619,410.2 619.5,411.9 620,413.6 620.5,415.3 621,417 621.5,418.7 622,420.3 622.5,421.9 623,423.5 623.5,425 624,426.6 624.5,428.1 625,429.6 625.5,431.1 626,432.5 626.5,434 627,435.4 627.5,436.8 628,438.1 628.5,439.5 629,440.8 629.5,442.1 630,443.4 630.5,444.6 631,445.8 631.5,447.1 632,448.3 632.5,449.4 633,450.6 633.5,451.7 634,452.8 634.5,453.9 635,455 635.5,456 636,457.1 636.5,458.1 637,459.1 637.5,460.1 638,461 638.5,462" fill="none" stroke="#22a448" stroke-width="3.3" stroke-linejoin="round" stroke-linecap="round"/>
<polyline points="383,452.6 383.5,452.5 384,452.5 384.5,452.5 385,452.5 385.5,452.5 386,452.4 386.5,452.4 387,452.4 387.5,452.4 388,452.4 388.5,452.3 389,452.3 389.5,452.3 390,452.3 390.5,452.3 391,452.2 391.5,452.2 392,452.2 392.5,452.2 393,452.1 393.5,452.1 394,452.1 394.5,452.1 395,452 395.5,452 396,452 396.5,452 397,451.9 397.5,451.9 398,451.9 398.5,451.8 399,451.8 399.5,451.8 400,451.7 400.5,451.7 401,451.7 401.5,451.6 402,451.6 402.5,451.6 403,451.5 403.5,451.5 404,451.4 404.5,451.4 405,451.3 405.5,451.3 406,451.2 406.5,451.2 407,451.1 407.5,451.1 408,451 408.5,450.9 409,450.9 409.5,450.8 410,450.7 410.5,450.7 411,450.6 411.5,450.5 412,450.4 412.5,450.3 413,450.2 413.5,450.1 414,450 414.5,449.9 415,449.8 415.5,449.7 416,449.6 416.5,449.5 417,449.3 417.5,449.2 418,449 418.5,448.9 419,448.7 419.5,448.6 420,448.4 420.5,448.2 421,448 421.5,447.8 422,447.6 422.5,447.4 423,447.1 423.5,446.9 424,446.7 424.5,446.4 425,446.1 425.5,445.8 426,445.5 426.5,445.2 427,444.9 427.5,444.6 428,444.2 428.5,443.9 429,443.5 429.5,443.1 430,442.7 430.5,442.3 431,441.8 431.5,441.4 432,440.9 432.5,440.4 433,439.9 433.5,439.4 434,438.8 434.5,438.2 435,437.7 435.5,437.1 436,436.4 436.5,435.8 437,435.1 437.5,434.5 438,433.8 438.5,433 439,432.3 439.5,431.5 440,430.7 440.5,429.9 441,429.1 441.5,428.3 442,427.4 442.5,426.5 443,425.6 443.5,424.7 444,423.7 444.5,422.8 445,421.8 445.5,420.8 446,419.8 446.5,418.7 447,417.7 447.5,416.6 448,415.5 448.5,414.4 449,413.3 449.5,412.2 450,411.1 450.5,409.9 451,408.7 451.5,407.6 452,406.4 452.5,405.2 453,404 453.5,402.8 454,401.6 454.5,400.4 455,399.2 455.5,398 456,396.8 456.5,395.6 457,394.4 457.5,393.3 458,392.1 458.5,390.9 459,389.8 459.5,388.6 460,387.5 460.5,386.4 461,385.3 461.5,384.3 462,383.2 462.5,382.2 463,381.2 463.5,380.3 464,379.4 464.5,378.5 465,377.6 465.5,376.8 466,376 466.5,375.3 467,374.6 467.5,373.9 468,373.3 468.5,372.8 469,372.3 469.5,371.8 470,371.4 470.5,371 471,370.7 471.5,370.5 472,370.3 472.5,370.2 473,370.1 473.5,370.1 474,370.1 474.5,370.3 475,370.5 475.5,370.9 476,371.3 476.5,371.8 477,372.4 477.5,373.1 478,373.8 478.5,374.7 479,375.6 479.5,376.5 480,377.6 480.5,378.7 481,379.8 481.5,381 482,382.3 482.5,383.5 483,384.9 483.5,386.2 484,387.6 484.5,389.1 485,390.5 485.5,392 486,393.5 486.5,395 487,396.5 487.5,398 488,399.5 488.5,401 489,402.5 489.5,404 490,405.5 490.5,407 491,408.5 491.5,410 492,411.4 492.5,412.8 493,414.2 493.5,415.6 494,417 494.5,418.3 495,419.6 495.5,420.9 496,422.2 496.5,423.4 497,424.6 497.5,425.8 498,427 498.5,428.1 499,429.2 499.5,430.2 500,431.2 500.5,432.2 501,433.2 501.5,434.1 502,435.1 502.5,435.9 503,436.8 503.5,437.6 504,438.4 504.5,439.2 505,439.9 505.5,440.6 506,441.3 506.5,442 507,442.6 507.5,443.3 508,443.9 508.5,444.4 509,445 509.5,445.5 510,446.1 510.5,446.5 511,447 511.5,447.5 512,447.9 512.5,448.3 513,448.7 513.5,449.1 514,449.5 514.5,449.9 515,450.2 515.5,450.5 516,450.8 516.5,451.1 517,451.4 517.5,451.7 518,451.9 518.5,452.2 519,452.4 519.5,452.6 520,452.8 520.5,453 521,453.2 521.5,453.4 522,453.5 522.5,453.7 523,453.8 523.5,453.9 524,454 524.5,454.1 525,454.2 525.5,454.3 526,454.4 526.5,454.4 527,454.5 527.5,454.5 528,454.5 528.5,454.6 529,454.6 529.5,454.6 530,454.6 530.5,454.5 531,454.5 531.5,454.5 532,454.4 532.5,454.4 533,454.3 533.5,454.2 534,454.2 534.5,454.1 535,454 535.5,453.9 536,453.7 536.5,453.6 537,453.5 537.5,453.3 538,453.2 538.5,453 539,452.8 539.5,452.6 540,452.4 540.5,452.2 541,452 541.5,451.8 542,451.6 542.5,451.3 543,451 543.5,450.8 544,450.5 544.5,450.2 545,449.9 545.5,449.5 546,449.2 546.5,448.8 547,448.5 547.5,448.1 548,447.7 548.5,447.2 549,446.8 549.5,446.3 550,445.9 550.5,445.4 551,444.9 551.5,444.3 552,443.8 552.5,443.2 553,442.6 553.5,442 554,441.4 554.5,440.7 555,440 555.5,439.3 556,438.5 556.5,437.8 557,437 557.5,436.2 558,435.3 558.5,434.5 559,433.6 559.5,432.6 560,431.7 560.5,430.7 561,429.7 561.5,428.6 562,427.5 562.5,426.4 563,425.3 563.5,424.1 564,422.9 564.5,421.7 565,420.4 565.5,419.1 566,417.7 566.5,416.4 567,415 567.5,413.5 568,412.1 568.5,410.6 569,409.1 569.5,407.5 570,405.9 570.5,404.3 571,402.6 571.5,401 572,399.3 572.5,397.5 573,395.8 573.5,394 574,392.2 574.5,390.4 575,388.5 575.5,386.7 576,384.8 576.5,382.9 577,381 577.5,379.1 578,377.2 578.5,375.2 579,373.3 579.5,371.3 580,369.4 580.5,367.5 581,365.5 581.5,363.6 582,361.7 582.5,359.8 583,358 583.5,356.1 584,354.3 584.5,352.6 585,350.8 585.5,349.1 586,347.5 586.5,345.9 587,344.3 587.5,342.9 588,341.5 588.5,340.1 589,338.9 589.5,337.7 590,336.6 590.5,335.6 591,334.7 591.5,333.9 592,333.2 592.5,332.6 593,332.1 593.5,331.7 594,331.4 594.5,331.2 595,331.2 595.5,331.3 596,331.4 596.5,331.7 597,332.2 597.5,332.7 598,333.3 598.5,334.1 599,334.9 599.5,335.9 600,336.9 600.5,338.1 601,339.3 601.5,340.7 602,342.1 602.5,343.6 603,345.2 603.5,346.8 604,348.5 604.5,350.3 605,352.1 605.5,354 606,355.9 606.5,357.9 607,359.9 607.5,362 608,364 608.5,366.1 609,368.2 609.5,370.3 610,372.5 610.5,374.6 611,376.8 611.5,378.9 612,381.1 612.5,383.2 613,385.4 613.5,387.5 614,389.7 614.5,391.8 615,393.9 615.5,395.9 616,398 616.5,400.1 617,402.1 617.5,404.1 618,406 618.5,408 619,409.9 619.5,411.8 620,413.6 620.5,415.5 621,417.3 621.5,419 622,420.8 622.5,422.5 623,424.1 623.5,425.8 624,427.4 624.5,428.9 625,430.5 625.5,432 626,433.4 626.5,434.9 627,436.3 627.5,437.6 628,438.9 628.5,440.2 629,441.5 629.5,442.7 630,443.9 630.5,445.1 631,446.2 631.5,447.3 632,448.4 632.5,449.4 633,450.4 633.5,451.4 634,452.3 634.5,453.2 635,454.1 635.5,454.9 636,455.8 636.5,456.6 637,457.4 637.5,458.1 638,458.8 638.5,459.5" fill="none" stroke="#d8121c" stroke-width="3.4" stroke-linejoin="round" stroke-linecap="round"/>
<polyline points="383,452.5 383.5,452.4 384,452.4 384.5,452.4 385,452.4 385.5,452.4 386,452.3 386.5,452.3 387,452.3 387.5,452.3 388,452.2 388.5,452.2 389,452.2 389.5,452.1 390,452.1 390.5,452.1 391,452.1 391.5,452 392,452 392.5,452 393,451.9 393.5,451.9 394,451.9 394.5,451.8 395,451.8 395.5,451.8 396,451.7 396.5,451.7 397,451.7 397.5,451.6 398,451.6 398.5,451.5 399,451.5 399.5,451.5 400,451.4 400.5,451.4 401,451.3 401.5,451.3 402,451.2 402.5,451.2 403,451.2 403.5,451.1 404,451.1 404.5,451 405,450.9 405.5,450.9 406,450.8 406.5,450.8 407,450.7 407.5,450.7 408,450.6 408.5,450.5 409,450.5 409.5,450.4 410,450.3 410.5,450.2 411,450.2 411.5,450.1 412,450 412.5,449.9 413,449.8 413.5,449.7 414,449.7 414.5,449.6 415,449.5 415.5,449.3 416,449.2 416.5,449.1 417,449 417.5,448.9 418,448.8 418.5,448.6 419,448.5 419.5,448.3 420,448.2 420.5,448 421,447.9 421.5,447.7 422,447.5 422.5,447.4 423,447.2 423.5,447 424,446.8 424.5,446.6 425,446.3 425.5,446.1 426,445.9 426.5,445.6 427,445.3 427.5,445.1 428,444.8 428.5,444.5 429,444.2 429.5,443.9 430,443.5 430.5,443.2 431,442.8 431.5,442.5 432,442.1 432.5,441.7 433,441.2 433.5,440.8 434,440.4 434.5,439.9 435,439.4 435.5,438.9 436,438.4 436.5,437.9 437,437.3 437.5,436.7 438,436.1 438.5,435.5 439,434.9 439.5,434.2 440,433.6 440.5,432.9 441,432.2 441.5,431.4 442,430.7 442.5,429.9 443,429.1 443.5,428.3 444,427.5 444.5,426.6 445,425.7 445.5,424.8 446,423.9 446.5,423 447,422 447.5,421 448,420 448.5,419 449,418 449.5,416.9 450,415.8 450.5,414.8 451,413.6 451.5,412.5 452,411.4 452.5,410.2 453,409.1 453.5,407.9 454,406.7 454.5,405.5 455,404.3 455.5,403.1 456,401.9 456.5,400.7 457,399.4 457.5,398.2 458,397 458.5,395.8 459,394.5 459.5,393.3 460,392.1 460.5,390.9 461,389.8 461.5,388.6 462,387.4 462.5,386.3 463,385.2 463.5,384.2 464,383.1 464.5,382.1 465,381.1 465.5,380.2 466,379.3 466.5,378.4 467,377.6 467.5,376.9 468,376.2 468.5,375.5 469,374.9 469.5,374.4 470,373.9 470.5,373.5 471,373.2 471.5,372.9 472,372.7 472.5,372.5 473,372.4 473.5,372.4 474,372.5 474.5,372.7 475,373 475.5,373.4 476,373.9 476.5,374.5 477,375.2 477.5,375.9 478,376.8 478.5,377.7 479,378.7 479.5,379.8 480,380.9 480.5,382.1 481,383.3 481.5,384.6 482,385.9 482.5,387.3 483,388.7 483.5,390.1 484,391.6 484.5,393 485,394.5 485.5,396 486,397.5 486.5,399 487,400.5 487.5,402 488,403.5 488.5,405 489,406.5 489.5,408 490,409.4 490.5,410.9 491,412.3 491.5,413.7 492,415.1 492.5,416.5 493,417.8 493.5,419.1 494,420.4 494.5,421.7 495,422.9 495.5,424.2 496,425.3 496.5,426.5 497,427.6 497.5,428.8 498,429.8 498.5,430.9 499,431.9 499.5,432.9 500,433.9 500.5,434.9 501,435.8 501.5,436.7 502,437.6 502.5,438.4 503,439.2 503.5,440 504,440.8 504.5,441.6 505,442.3 505.5,443 506,443.7 506.5,444.4 507,445 507.5,445.7 508,446.3 508.5,446.9 509,447.5 509.5,448.1 510,448.6 510.5,449.1 511,449.7 511.5,450.2 512,450.7" fill="none" stroke="#2b6fd3" stroke-width="3.4" stroke-linejoin="round" stroke-linecap="round"/>
<polyline points="510,448.6 510.5,449.1 511,449.7 511.5,450.2 512,450.7 512.5,451.1 513,451.6 513.5,452 514,452.5 514.5,452.9 515,453.3 515.5,453.7 516,454.1 516.5,454.5 517,454.8 517.5,455.2 518,455.5 518.5,455.9 519,456.2 519.5,456.5 520,456.8 520.5,457.1 521,457.4 521.5,457.6 522,457.9 522.5,458.2 523,458.4 523.5,458.6 524,458.9 524.5,459.1 525,459.3 525.5,459.5 526,459.7 526.5,459.9 527,460.1 527.5,460.2 528,460.4 528.5,460.6 529,460.7 529.5,460.9 530,461 530.5,461.1 531,461.2 531.5,461.4 532,461.5" fill="none" stroke="#2b6fd3" stroke-width="3.0" stroke-linejoin="round" stroke-linecap="round"/>
<polyline points="530,461 530.5,461.1 531,461.2 531.5,461.4 532,461.5 532.5,461.6 533,461.7 533.5,461.8 534,461.9 534.5,462 535,462.1 535.5,462.2 536,462.2 536.5,462.3 537,462.4 537.5,462.5 538,462.5 538.5,462.6 539,462.7 539.5,462.7 540,462.8 540.5,462.8 541,462.9 541.5,463 542,463 542.5,463.1 543,463.1 543.5,463.2 544,463.2 544.5,463.2 545,463.3 545.5,463.3 546,463.4 546.5,463.4 547,463.5 547.5,463.5 548,463.5 548.5,463.6 549,463.6 549.5,463.7 550,463.7 550.5,463.7 551,463.8 551.5,463.8 552,463.8 552.5,463.9 553,463.9 553.5,464 554,464 554.5,464 555,464.1 555.5,464.1 556,464.1 556.5,464.2 557,464.2 557.5,464.3 558,464.3 558.5,464.3 559,464.4 559.5,464.4 560,464.5 560.5,464.5 561,464.6 561.5,464.6 562,464.7 562.5,464.7 563,464.7 563.5,464.8 564,464.8 564.5,464.9 565,464.9 565.5,465 566,465 566.5,465.1 567,465.1 567.5,465.2 568,465.3 568.5,465.3 569,465.4 569.5,465.4 570,465.5 570.5,465.6 571,465.6 571.5,465.7 572,465.7 572.5,465.8 573,465.9 573.5,465.9 574,466 574.5,466.1 575,466.2 575.5,466.2 576,466.3 576.5,466.4 577,466.5 577.5,466.5 578,466.6 578.5,466.7 579,466.8 579.5,466.9 580,467 580.5,467.1 581,467.1 581.5,467.2 582,467.3 582.5,467.4 583,467.5 583.5,467.6 584,467.7 584.5,467.8 585,467.9 585.5,468 586,468.1 586.5,468.2 587,468.3 587.5,468.5 588,468.6 588.5,468.7 589,468.8 589.5,468.9 590,469 590.5,469.1 591,469.3 591.5,469.4 592,469.5 592.5,469.6 593,469.7 593.5,469.9 594,470 594.5,470.1 595,470.3 595.5,470.4 596,470.5 596.5,470.7 597,470.8 597.5,470.9 598,471.1 598.5,471.2 599,471.3 599.5,471.5 600,471.6 600.5,471.7 601,471.9 601.5,472 602,472.2 602.5,472.3 603,472.5 603.5,472.6 604,472.7 604.5,472.9 605,473 605.5,473.2 606,473.3 606.5,473.5 607,473.6 607.5,473.8 608,473.9 608.5,474 609,474.2 609.5,474.3 610,474.5 610.5,474.6 611,474.8 611.5,474.9 612,475.1 612.5,475.2 613,475.3 613.5,475.5 614,475.6 614.5,475.8 615,475.9 615.5,476 616,476.2 616.5,476.3 617,476.5 617.5,476.6 618,476.7 618.5,476.9 619,477 619.5,477.1 620,477.3 620.5,477.4 621,477.5 621.5,477.6 622,477.8 622.5,477.9 623,478 623.5,478.1 624,478.3 624.5,478.4 625,478.5 625.5,478.6 626,478.7 626.5,478.8 627,479 627.5,479.1 628,479.2 628.5,479.3 629,479.4 629.5,479.5 630,479.6 630.5,479.7 631,479.8 631.5,479.9 632,480 632.5,480.1 633,480.2 633.5,480.3 634,480.4 634.5,480.4 635,480.5 635.5,480.6 636,480.7 636.5,480.8 637,480.9 637.5,480.9 638,481 638.5,481.1" fill="none" stroke="#2b6fd3" stroke-width="2.5" stroke-linejoin="round" stroke-linecap="round"/>
<polyline points="548,450.6 548.5,450.1 549,449.7 549.5,449.2 550,448.7 550.5,448.2 551,447.7 551.5,447.1 552,446.6 552.5,446 553,445.4 553.5,444.8 554,444.2 554.5,443.5 555,442.8 555.5,442.1 556,441.4 556.5,440.7 557,439.9 557.5,439.1 558,438.3 558.5,437.5 559,436.6 559.5,435.8 560,434.9 560.5,433.9 561,433 561.5,432 562,430.9 562.5,429.9 563,428.8 563.5,427.7 564,426.6 564.5,425.4 565,424.2 565.5,423 566,421.7 566.5,420.4 567,419.1 567.5,417.7 568,416.3 568.5,414.9 569,413.4 569.5,411.9 570,410.3 570.5,408.8 571,407.1 571.5,405.5 572,403.8 572.5,402.1 573,400.3 573.5,398.6 574,396.7 574.5,394.9 575,393 575.5,391.1 576,389.2 576.5,387.2 577,385.2 577.5,383.2 578,381.1 578.5,379.1 579,377 579.5,374.9 580,372.8 580.5,370.6 581,368.5 581.5,366.4 582,364.3 582.5,362.2 583,360.1 583.5,358 584,355.9 584.5,353.9 585,351.9 585.5,350 586,348.1 586.5,346.3 587,344.5 587.5,342.9 588,341.3 588.5,339.8 589,338.4 589.5,337.1 590,336 590.5,334.9 591,334.1 591.5,333.3 592,332.7 592.5,332.3 593,332 593.5,331.9 594,331.9 594.5,332.2 595,332.6 595.5,333.1 596,333.8 596.5,334.6 597,335.5 597.5,336.4 598,337.4 598.5,338.5 599,339.6 599.5,340.9 600,342.1 600.5,343.5 601,344.9 601.5,346.3 602,347.8 602.5,349.4 603,351 603.5,352.6 604,354.3 604.5,356 605,357.8 605.5,359.5 606,361.3 606.5,363.2 607,365 607.5,366.9 608,368.8 608.5,370.7 609,372.6 609.5,374.5 610,376.5 610.5,378.4 611,380.4 611.5,382.3 612,384.2 612.5,386.1 613,388.1 613.5,390 614,391.9 614.5,393.8 615,395.7 615.5,397.5 616,399.4 616.5,401.2 617,403.1 617.5,404.9 618,406.7 618.5,408.4 619,410.2 619.5,411.9 620,413.6 620.5,415.3 621,417 621.5,418.7 622,420.3 622.5,421.9 623,423.5 623.5,425 624,426.6 624.5,428.1 625,429.6 625.5,431.1 626,432.5 626.5,434 627,435.4 627.5,436.8 628,438.1 628.5,439.5 629,440.8 629.5,442.1 630,443.4 630.5,444.6 631,445.8 631.5,447.1 632,448.3 632.5,449.4 633,450.6 633.5,451.7 634,452.8 634.5,453.9 635,455 635.5,456 636,457.1 636.5,458.1 637,459.1 637.5,460.1 638,461 638.5,462" fill="none" stroke="#22a448" stroke-width="3.3" stroke-linejoin="round" stroke-linecap="round"/>
<rect x="361.5" y="277.3" width="299.6" height="220.9" fill="none" stroke="#111" stroke-width="2"/>
<line x1="384.2" y1="498.2" x2="384.2" y2="501.6" stroke="#111" stroke-width="1.8"/>
<line x1="418.7" y1="498.2" x2="418.7" y2="501.6" stroke="#111" stroke-width="1.8"/>
<line x1="453.3" y1="498.2" x2="453.3" y2="501.6" stroke="#111" stroke-width="1.8"/>
<line x1="487.8" y1="498.2" x2="487.8" y2="501.6" stroke="#111" stroke-width="1.8"/>
<line x1="522.4" y1="498.2" x2="522.4" y2="501.6" stroke="#111" stroke-width="1.8"/>
<line x1="556.9" y1="498.2" x2="556.9" y2="501.6" stroke="#111" stroke-width="1.8"/>
<line x1="591.5" y1="498.2" x2="591.5" y2="501.6" stroke="#111" stroke-width="1.8"/>
<line x1="626.0" y1="498.2" x2="626.0" y2="501.6" stroke="#111" stroke-width="1.8"/>
<line x1="660.6" y1="498.2" x2="660.6" y2="501.6" stroke="#111" stroke-width="1.8"/>
<text transform="translate(383.2,514.1) scale(0.9,1)" x="0" y="0" font-size="14.5" font-weight="bold" fill="#111" stroke="#111" stroke-width="0.23" text-anchor="middle" textLength="23.33" lengthAdjust="spacing">345</text>
<text transform="translate(452.3,514.1) scale(0.9,1)" x="0" y="0" font-size="14.5" font-weight="bold" fill="#111" stroke="#111" stroke-width="0.23" text-anchor="middle" textLength="23.33" lengthAdjust="spacing">342</text>
<text transform="translate(521.4,514.1) scale(0.9,1)" x="0" y="0" font-size="14.5" font-weight="bold" fill="#111" stroke="#111" stroke-width="0.23" text-anchor="middle" textLength="23.33" lengthAdjust="spacing">339</text>
<text transform="translate(590.5,514.1) scale(0.9,1)" x="0" y="0" font-size="14.5" font-weight="bold" fill="#111" stroke="#111" stroke-width="0.23" text-anchor="middle" textLength="23.33" lengthAdjust="spacing">336</text>
<text transform="translate(659.6,514.1) scale(0.9,1)" x="0" y="0" font-size="14.5" font-weight="bold" fill="#111" stroke="#111" stroke-width="0.23" text-anchor="middle" textLength="23.33" lengthAdjust="spacing">333</text>
<text transform="translate(433.2,532.1) scale(0.9,1)" x="0" y="0" font-size="16.3" font-weight="bold" fill="#111" stroke="#111" stroke-width="0.26" textLength="172.89" lengthAdjust="spacing">Binding Energy (eV)</text>
<text x="327.4" y="288.8" font-size="27.5" font-weight="normal" fill="#111" stroke="#111" stroke-width="0.12" textLength="33.2" lengthAdjust="spacingAndGlyphs">(d)</text>
<text transform="translate(371.9,298.4) scale(0.9,1)" x="0" y="0" font-size="12.8" font-weight="bold" fill="#b5202e" stroke="#b5202e" stroke-width="0.2" textLength="40.11" lengthAdjust="spacing">Pd-0.3</text>
<text transform="translate(434.3,325.2) scale(0.9,1)" x="0" y="0" font-size="18" font-weight="bold" fill="#2a7ab8" stroke="#2a7ab8" stroke-width="0.29" textLength="63.78" lengthAdjust="spacing">Pd(0)3d</text>
<text transform="translate(493.6,332.4) scale(0.9,1)" x="0" y="0" font-size="8.5" font-weight="bold" fill="#2a7ab8" stroke="#2a7ab8" stroke-width="0.14" textLength="14.89" lengthAdjust="spacing">3/2</text>
<text transform="translate(559.4,296.5) scale(0.9,1)" x="0" y="0" font-size="18" font-weight="bold" fill="#2a8230" stroke="#2a8230" stroke-width="0.29" textLength="65.44" lengthAdjust="spacing">Pd(0)3d</text>
<text transform="translate(620.2,303.2) scale(0.9,1)" x="0" y="0" font-size="8.5" font-weight="bold" fill="#2a8230" stroke="#2a8230" stroke-width="0.14" textLength="13.67" lengthAdjust="spacing">5/2</text>
<text transform="translate(376,411.9) scale(0.9,1)" x="0" y="0" font-size="13.5" font-weight="bold" fill="#e8903a" stroke="#e8903a" stroke-width="0.22" textLength="54.11" lengthAdjust="spacing">Pd(II)3d</text>
<text transform="translate(426.2,417.4) scale(0.9,1)" x="0" y="0" font-size="6.5" font-weight="bold" fill="#e8903a" stroke="#e8903a" stroke-width="0.1" textLength="10.44" lengthAdjust="spacing">3/2</text>
<text transform="translate(499.2,409.9) scale(0.9,1)" x="0" y="0" font-size="13.5" font-weight="bold" fill="#e8903a" stroke="#e8903a" stroke-width="0.22" textLength="54.44" lengthAdjust="spacing">Pd(II)3d</text>
<text transform="translate(549.8,415.5) scale(0.9,1)" x="0" y="0" font-size="6.5" font-weight="bold" fill="#e8903a" stroke="#e8903a" stroke-width="0.1" textLength="10.44" lengthAdjust="spacing">5/2</text>
</svg>
</body></html>
